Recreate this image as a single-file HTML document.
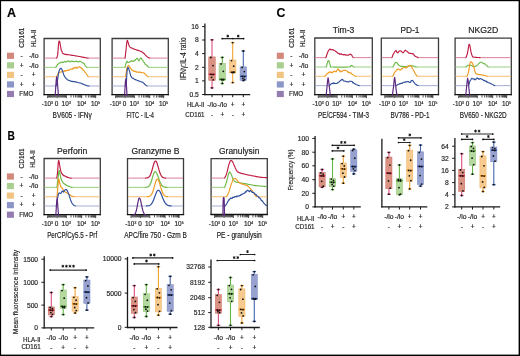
<!DOCTYPE html>
<html><head><meta charset="utf-8"><style>
html,body{margin:0;padding:0;background:#fff;}
svg{display:block;font-family:"Liberation Sans", sans-serif;will-change:transform;}
text{stroke:#222;stroke-width:0.18px;}
</style></head><body>
<svg width="520" height="356" viewBox="0 0 520 356">
<rect x="0" y="0" width="520" height="356" fill="#000"/>
<rect x="1.1" y="1.2" width="517.5" height="353.4" fill="#fff"/>
<text x="7" y="16.9" font-size="12" text-anchor="start" fill="#000" font-weight="bold" textLength="9" lengthAdjust="spacingAndGlyphs">A</text>
<text x="7.4" y="140.1" font-size="11.9" text-anchor="start" fill="#000" font-weight="bold" textLength="7.4" lengthAdjust="spacingAndGlyphs">B</text>
<text x="276.5" y="16.7" font-size="12.2" text-anchor="start" fill="#000" font-weight="bold">C</text>
<rect x="7" y="52.7" width="7" height="6.2" fill="#d2887a"/>
<rect x="7" y="62.25" width="7" height="6.2" fill="#a8cf8f"/>
<rect x="7" y="71.8" width="7" height="6.2" fill="#f2c482"/>
<rect x="7" y="81.35" width="7" height="6.2" fill="#8b96c8"/>
<rect x="7" y="90.9" width="7" height="6.2" fill="#957cb0"/>
<text transform="translate(23.9,47.7) rotate(-90)" font-size="6.5" fill="#2b2b2b" textLength="20" lengthAdjust="spacingAndGlyphs">CD161</text>
<text transform="translate(35.5,47.1) rotate(-90)" font-size="6.3" fill="#2b2b2b" textLength="17.5" lengthAdjust="spacingAndGlyphs">HLA-II</text>
<text x="21.6" y="58" font-size="6.6" text-anchor="middle" fill="#2b2b2b" font-weight="normal">-</text>
<text x="33.7" y="58" font-size="6.6" text-anchor="middle" fill="#2b2b2b" font-weight="normal" textLength="9.6" lengthAdjust="spacingAndGlyphs">-/lo</text>
<text x="21.6" y="67.55" font-size="6.6" text-anchor="middle" fill="#2b2b2b" font-weight="normal">+</text>
<text x="33.7" y="67.55" font-size="6.6" text-anchor="middle" fill="#2b2b2b" font-weight="normal" textLength="9.6" lengthAdjust="spacingAndGlyphs">-/lo</text>
<text x="21.6" y="77.1" font-size="6.6" text-anchor="middle" fill="#2b2b2b" font-weight="normal">-</text>
<text x="33.7" y="77.1" font-size="6.6" text-anchor="middle" fill="#2b2b2b" font-weight="normal">+</text>
<text x="21.6" y="86.65" font-size="6.6" text-anchor="middle" fill="#2b2b2b" font-weight="normal">+</text>
<text x="33.7" y="86.65" font-size="6.6" text-anchor="middle" fill="#2b2b2b" font-weight="normal">+</text>
<text x="19.3" y="96.4" font-size="6.6" text-anchor="start" fill="#2b2b2b" font-weight="normal" textLength="14" lengthAdjust="spacingAndGlyphs">FMO</text>
<rect x="6.9" y="173.4" width="7" height="6.2" fill="#d2887a"/>
<rect x="6.9" y="182.95" width="7" height="6.2" fill="#a8cf8f"/>
<rect x="6.9" y="192.5" width="7" height="6.2" fill="#f2c482"/>
<rect x="6.9" y="202.05" width="7" height="6.2" fill="#8b96c8"/>
<rect x="6.9" y="211.6" width="7" height="6.2" fill="#957cb0"/>
<text transform="translate(23.8,168.4) rotate(-90)" font-size="6.5" fill="#2b2b2b" textLength="20" lengthAdjust="spacingAndGlyphs">CD161</text>
<text transform="translate(35.4,167.8) rotate(-90)" font-size="6.3" fill="#2b2b2b" textLength="17.5" lengthAdjust="spacingAndGlyphs">HLA-II</text>
<text x="21.5" y="178.7" font-size="6.6" text-anchor="middle" fill="#2b2b2b" font-weight="normal">-</text>
<text x="33.6" y="178.7" font-size="6.6" text-anchor="middle" fill="#2b2b2b" font-weight="normal" textLength="9.6" lengthAdjust="spacingAndGlyphs">-/lo</text>
<text x="21.5" y="188.25" font-size="6.6" text-anchor="middle" fill="#2b2b2b" font-weight="normal">+</text>
<text x="33.6" y="188.25" font-size="6.6" text-anchor="middle" fill="#2b2b2b" font-weight="normal" textLength="9.6" lengthAdjust="spacingAndGlyphs">-/lo</text>
<text x="21.5" y="197.8" font-size="6.6" text-anchor="middle" fill="#2b2b2b" font-weight="normal">-</text>
<text x="33.6" y="197.8" font-size="6.6" text-anchor="middle" fill="#2b2b2b" font-weight="normal">+</text>
<text x="21.5" y="207.35" font-size="6.6" text-anchor="middle" fill="#2b2b2b" font-weight="normal">+</text>
<text x="33.6" y="207.35" font-size="6.6" text-anchor="middle" fill="#2b2b2b" font-weight="normal">+</text>
<text x="19.2" y="217.1" font-size="6.6" text-anchor="start" fill="#2b2b2b" font-weight="normal" textLength="14" lengthAdjust="spacingAndGlyphs">FMO</text>
<rect x="276.8" y="52.7" width="7" height="6.2" fill="#d2887a"/>
<rect x="276.8" y="62.25" width="7" height="6.2" fill="#a8cf8f"/>
<rect x="276.8" y="71.8" width="7" height="6.2" fill="#f2c482"/>
<rect x="276.8" y="81.35" width="7" height="6.2" fill="#8b96c8"/>
<rect x="276.8" y="90.9" width="7" height="6.2" fill="#957cb0"/>
<text transform="translate(293.7,47.7) rotate(-90)" font-size="6.5" fill="#2b2b2b" textLength="20" lengthAdjust="spacingAndGlyphs">CD161</text>
<text transform="translate(305.3,47.1) rotate(-90)" font-size="6.3" fill="#2b2b2b" textLength="17.5" lengthAdjust="spacingAndGlyphs">HLA-II</text>
<text x="291.4" y="58" font-size="6.6" text-anchor="middle" fill="#2b2b2b" font-weight="normal">-</text>
<text x="303.5" y="58" font-size="6.6" text-anchor="middle" fill="#2b2b2b" font-weight="normal" textLength="9.6" lengthAdjust="spacingAndGlyphs">-/lo</text>
<text x="291.4" y="67.55" font-size="6.6" text-anchor="middle" fill="#2b2b2b" font-weight="normal">+</text>
<text x="303.5" y="67.55" font-size="6.6" text-anchor="middle" fill="#2b2b2b" font-weight="normal" textLength="9.6" lengthAdjust="spacingAndGlyphs">-/lo</text>
<text x="291.4" y="77.1" font-size="6.6" text-anchor="middle" fill="#2b2b2b" font-weight="normal">-</text>
<text x="303.5" y="77.1" font-size="6.6" text-anchor="middle" fill="#2b2b2b" font-weight="normal">+</text>
<text x="291.4" y="86.65" font-size="6.6" text-anchor="middle" fill="#2b2b2b" font-weight="normal">+</text>
<text x="303.5" y="86.65" font-size="6.6" text-anchor="middle" fill="#2b2b2b" font-weight="normal">+</text>
<text x="289.1" y="96.4" font-size="6.6" text-anchor="start" fill="#2b2b2b" font-weight="normal" textLength="14" lengthAdjust="spacingAndGlyphs">FMO</text>
<path d="M44.1,95.2 L44.1,38.5 L100.3,38.5 L100.3,95.2" fill="none" stroke="#3c3c3c" stroke-width="1.3"/>
<line x1="43.5" y1="94.7" x2="100.9" y2="94.7" stroke="#111" stroke-width="1.3"/>
<path d="M47.6,95.2 V98.2 M57.1,95.2 V98.2 M66.4,95.2 V98.2 M81.7,95.2 V98.2 M95.7,95.2 V98.2 M71.01,95.2 V97.5 M73.7,95.2 V97.5 M75.61,95.2 V97.5 M77.09,95.2 V97.5 M78.31,95.2 V97.5 M79.33,95.2 V97.5 M80.22,95.2 V97.5 M81,95.2 V97.5 M85.91,95.2 V97.5 M88.38,95.2 V97.5 M90.13,95.2 V97.5 M91.49,95.2 V97.5 M92.59,95.2 V97.5 M93.53,95.2 V97.5 M94.34,95.2 V97.5 M95.06,95.2 V97.5 M58.03,95.2 V97.5 M56.15,95.2 V97.5 M58.96,95.2 V97.5 M55.2,95.2 V97.5 M59.89,95.2 V97.5 M54.25,95.2 V97.5 M60.82,95.2 V97.5 M53.3,95.2 V97.5 M61.75,95.2 V97.5 M52.35,95.2 V97.5 M62.68,95.2 V97.5 M51.4,95.2 V97.5 M63.61,95.2 V97.5 M50.45,95.2 V97.5 M64.54,95.2 V97.5 M49.5,95.2 V97.5 M65.47,95.2 V97.5 M48.55,95.2 V97.5 " stroke="#151515" stroke-width="0.75"/>
<text x="41.8" y="106.2" font-size="6.4" fill="#2b2b2b">-10</text>
<text x="51.08" y="104.1" font-size="3.3" fill="#2b2b2b">3</text>
<text x="56.6" y="106.2" font-size="6.4" text-anchor="middle" fill="#2b2b2b" font-weight="normal">0</text>
<text x="61.6" y="106.2" font-size="6.4" fill="#2b2b2b">10</text>
<text x="68.92" y="104.1" font-size="3.3" fill="#2b2b2b">3</text>
<text x="77" y="106.2" font-size="6.4" fill="#2b2b2b">10</text>
<text x="84.32" y="104.1" font-size="3.3" fill="#2b2b2b">4</text>
<text x="91" y="106.2" font-size="6.4" fill="#2b2b2b">10</text>
<text x="98.32" y="104.1" font-size="3.3" fill="#2b2b2b">5</text>
<text x="72.2" y="118.2" font-size="8.3" text-anchor="middle" fill="#222" font-weight="normal" textLength="39.4" lengthAdjust="spacingAndGlyphs">BV605 - IFN&#947;</text>
<line x1="44.6" y1="58.1" x2="56.5" y2="58.1" stroke="#de8aa2" stroke-width="1.1"/>
<line x1="88" y1="58.1" x2="99.8" y2="58.1" stroke="#de8aa2" stroke-width="1.1"/>
<path d="M56.5,58.1 L57,57.38 L57.6,55.4 L58.02,50.95 L58.4,45.87 L58.74,42.79 L59.1,40.96 L59.53,41.18 L60,43 L60.46,45.74 L61,48.98 L61.46,50.46 L61.98,51.84 L62.5,52.98 L62.98,53.68 L63.46,53.71 L64,53.92 L64.42,54.18 L64.84,54.36 L65.35,54.32 L66,54.37 L66.46,54.62 L66.97,54.41 L67.52,54.74 L68.11,54.66 L68.73,54.7 L69.36,54.79 L70,54.94 L70.51,55.17 L71.04,55.07 L71.59,55.28 L72.15,55.38 L72.72,55.4 L73.3,55.54 L73.87,55.49 L74.44,55.58 L75,55.72 L75.56,55.94 L76.11,55.96 L76.67,56.01 L77.22,56.16 L77.78,56.22 L78.33,56.28 L78.89,56.47 L79.44,56.54 L80,56.55 L80.57,56.72 L81.15,56.82 L81.74,56.99 L82.33,57.09 L82.91,57.16 L83.48,57.34 L84.02,57.38 L84.53,57.5 L85,57.62 L85.65,57.7 L86.26,57.82 L86.81,57.9 L87.3,57.99 L87.7,58.05 L88,58.1" fill="none" stroke="#c01c43" stroke-width="1.15" stroke-linejoin="round" stroke-linecap="round"/>
<line x1="44.6" y1="67.4" x2="55.8" y2="67.4" stroke="#a3d48e" stroke-width="1.1"/>
<line x1="86.8" y1="67.4" x2="99.8" y2="67.4" stroke="#a3d48e" stroke-width="1.1"/>
<path d="M55.8,67.4 L56.25,66.6 L56.89,65.71 L57.5,64.33 L58,64.18 L58.47,63.79 L59,63.47 L59.46,63.03 L59.97,63.02 L60.49,62.8 L61,62.18 L61.52,62.33 L62.06,61.89 L62.57,62.58 L63,62.53 L63.5,62.38 L64,61.79 L64.43,61.36 L64.94,61.64 L65.48,62.09 L66,61.57 L66.5,61.82 L67,61.29 L67.5,60.99 L68,60.8 L68.5,61.53 L69,61.17 L69.5,61.49 L70,61.7 L70.5,62 L71,61.02 L71.5,61.09 L72,61.04 L72.5,61.42 L73,61.56 L73.5,61.81 L74,61.4 L74.5,61.49 L75,61.32 L75.5,61.67 L76,61.71 L76.5,61.12 L77,61.37 L77.5,61.64 L78,61.76 L78.5,61.92 L79,61.82 L79.5,61.35 L80,61.05 L80.5,61.53 L81,61.68 L81.5,62.1 L82,62.71 L82.51,62.71 L83.03,62.81 L83.54,63.21 L84,63.66 L84.54,63.88 L85.03,65.52 L85.5,66.14 L86,66.71 L86.47,67.11 L86.8,67.4" fill="none" stroke="#6dbb4a" stroke-width="1.15" stroke-linejoin="round" stroke-linecap="round"/>
<line x1="44.6" y1="76.7" x2="56.9" y2="76.7" stroke="#f6c380" stroke-width="1.1"/>
<line x1="88.2" y1="76.7" x2="99.8" y2="76.7" stroke="#f6c380" stroke-width="1.1"/>
<path d="M56.9,76.7 L57.3,75.58 L57.88,74.05 L58.5,72.64 L58.98,72.75 L59.51,72.1 L60.03,72.07 L60.5,72.14 L61.02,71.96 L61.48,72.01 L62,71.6 L62.46,71.36 L62.97,71.27 L63.49,71.01 L64,71.08 L64.5,70.69 L65,71.43 L65.5,71.17 L66,70.68 L66.5,70.64 L67,70.54 L67.5,70.36 L68,69.96 L68.5,70.44 L69,70.39 L69.5,69.74 L70,69.59 L70.5,69.07 L71,68.95 L71.5,69.02 L72,68.79 L72.5,69.11 L73,68.3 L73.5,67.97 L74,68.61 L74.52,68.02 L75.06,67.45 L75.57,67.63 L76,67.07 L76.56,67.79 L77,68.43 L77.5,67.83 L78,67.18 L78.5,66.96 L79,67.28 L79.5,66.75 L80,67.04 L80.5,67.36 L81,68.25 L81.44,68.05 L82,68.25 L82.43,69.15 L82.94,69.78 L83.48,70.21 L84,70.78 L84.5,71.46 L84.99,72.14 L85.49,72.47 L86,73.52 L86.59,74.24 L87.23,75.05 L87.8,76.02 L88.2,76.7" fill="none" stroke="#ef9a22" stroke-width="1.15" stroke-linejoin="round" stroke-linecap="round"/>
<line x1="44.6" y1="86" x2="56.1" y2="86" stroke="#abb5db" stroke-width="1.1"/>
<line x1="89.2" y1="86" x2="99.8" y2="86" stroke="#abb5db" stroke-width="1.1"/>
<path d="M56.1,86 L56.46,84.5 L56.97,82.35 L57.5,80.08 L57.98,77.17 L58.47,73.62 L59,71.17 L59.45,69.97 L59.94,69.16 L60.44,68.48 L60.9,68.29 L61.45,68.69 L61.97,69.66 L62.5,70.88 L63.06,72.54 L63.62,74.37 L64.2,75.84 L64.8,76.76 L65.41,77.66 L66,78.42 L66.52,78.7 L67.01,79.36 L67.6,79.86 L68.04,80.06 L68.52,80.29 L69.03,80.41 L69.53,80.49 L70,80.92 L70.48,80.9 L70.9,81.2 L71.37,81.36 L72,81.26 L72.47,81.35 L73,81.66 L73.57,81.66 L74.18,81.54 L74.8,81.62 L75.41,81.74 L76,82.16 L76.57,82.25 L77.14,82.11 L77.71,82.51 L78.29,82.71 L78.86,82.73 L79.43,82.77 L80,83.02 L80.58,83.04 L81.17,83.21 L81.77,83.8 L82.36,83.9 L82.93,84.09 L83.48,84.42 L84,84.48 L84.57,84.8 L85.1,85.01 L85.61,85.14 L86.1,85.35 L86.56,85.54 L87,85.69 L87.66,85.85 L88.29,85.92 L88.82,85.97 L89.2,86" fill="none" stroke="#2f4f9c" stroke-width="1.15" stroke-linejoin="round" stroke-linecap="round"/>
<path d="M55.2,95.2 C55.35,93 55.85,85.12 56.1,82 C56.35,78.88 56.48,76.5 56.7,76.5 C56.92,76.5 57.12,78.88 57.4,82 C57.68,85.12 58.23,93 58.4,95.2" fill="none" stroke="#5e2a80" stroke-width="1.2" stroke-linejoin="round" stroke-linecap="round"/>
<path d="M112.1,95.2 L112.1,38.5 L168.3,38.5 L168.3,95.2" fill="none" stroke="#3c3c3c" stroke-width="1.3"/>
<line x1="111.5" y1="94.7" x2="168.9" y2="94.7" stroke="#111" stroke-width="1.3"/>
<path d="M115.6,95.2 V98.2 M125.1,95.2 V98.2 M134.4,95.2 V98.2 M149.7,95.2 V98.2 M163.7,95.2 V98.2 M139.01,95.2 V97.5 M141.7,95.2 V97.5 M143.61,95.2 V97.5 M145.09,95.2 V97.5 M146.31,95.2 V97.5 M147.33,95.2 V97.5 M148.22,95.2 V97.5 M149,95.2 V97.5 M153.91,95.2 V97.5 M156.38,95.2 V97.5 M158.13,95.2 V97.5 M159.49,95.2 V97.5 M160.59,95.2 V97.5 M161.53,95.2 V97.5 M162.34,95.2 V97.5 M163.06,95.2 V97.5 M126.03,95.2 V97.5 M124.15,95.2 V97.5 M126.96,95.2 V97.5 M123.2,95.2 V97.5 M127.89,95.2 V97.5 M122.25,95.2 V97.5 M128.82,95.2 V97.5 M121.3,95.2 V97.5 M129.75,95.2 V97.5 M120.35,95.2 V97.5 M130.68,95.2 V97.5 M119.4,95.2 V97.5 M131.61,95.2 V97.5 M118.45,95.2 V97.5 M132.54,95.2 V97.5 M117.5,95.2 V97.5 M133.47,95.2 V97.5 M116.55,95.2 V97.5 " stroke="#151515" stroke-width="0.75"/>
<text x="109.8" y="106.2" font-size="6.4" fill="#2b2b2b">-10</text>
<text x="119.08" y="104.1" font-size="3.3" fill="#2b2b2b">3</text>
<text x="124.6" y="106.2" font-size="6.4" text-anchor="middle" fill="#2b2b2b" font-weight="normal">0</text>
<text x="129.6" y="106.2" font-size="6.4" fill="#2b2b2b">10</text>
<text x="136.92" y="104.1" font-size="3.3" fill="#2b2b2b">3</text>
<text x="145" y="106.2" font-size="6.4" fill="#2b2b2b">10</text>
<text x="152.32" y="104.1" font-size="3.3" fill="#2b2b2b">4</text>
<text x="159" y="106.2" font-size="6.4" fill="#2b2b2b">10</text>
<text x="166.32" y="104.1" font-size="3.3" fill="#2b2b2b">5</text>
<text x="140.2" y="118.2" font-size="8.3" text-anchor="middle" fill="#222" font-weight="normal" textLength="27.6" lengthAdjust="spacingAndGlyphs">FITC - IL-4</text>
<line x1="112.6" y1="58.1" x2="125.1" y2="58.1" stroke="#de8aa2" stroke-width="1.1"/>
<line x1="149.7" y1="58.1" x2="167.8" y2="58.1" stroke="#de8aa2" stroke-width="1.1"/>
<path d="M125.1,58.1 L125.48,54.53 L126,50.12 L126.53,44.54 L127.1,40.49 L127.49,40.43 L127.9,41.77 L128.3,42.98 L128.87,44.94 L129.5,46.5 L129.99,47.14 L130.53,47.54 L131.2,47.76 L131.68,48.12 L132.2,48.26 L132.76,48.41 L133.36,48.86 L134,48.9 L134.48,49.17 L134.99,49.42 L135.52,49.56 L136.07,49.68 L136.62,49.93 L137.16,50.13 L137.7,50.39 L138.24,50.36 L138.79,50.67 L139.34,50.75 L139.89,50.93 L140.42,51.27 L140.93,51.39 L141.4,51.62 L141.98,52 L142.5,52.38 L142.98,52.61 L143.47,53.07 L144,53.5 L144.48,53.97 L144.98,54.56 L145.49,55.06 L146.01,55.65 L146.51,56.16 L147,56.68 L147.6,57.05 L148.23,57.42 L148.83,57.71 L149.34,57.92 L149.7,58.1" fill="none" stroke="#c01c43" stroke-width="1.15" stroke-linejoin="round" stroke-linecap="round"/>
<line x1="112.6" y1="67.4" x2="125" y2="67.4" stroke="#a3d48e" stroke-width="1.1"/>
<line x1="148.8" y1="67.4" x2="167.8" y2="67.4" stroke="#a3d48e" stroke-width="1.1"/>
<path d="M125,67.4 L125.4,65.63 L125.99,63.46 L126.6,61.74 L127.04,61.14 L127.49,61.64 L127.98,62.49 L128.5,62.5 L128.97,62.41 L129.48,61.87 L130.01,61.77 L130.52,61.39 L131,61.18 L131.52,60.62 L132,61.17 L132.48,61.31 L133,60.95 L133.49,61.3 L134.02,61.1 L134.56,60.27 L135.07,60.44 L135.5,59.73 L136.03,59.13 L136.42,58.79 L136.8,58.33 L137.42,58.36 L138,59.45 L138.48,60.53 L139,60.89 L139.46,59.99 L139.98,58.78 L140.5,58.26 L140.94,57.81 L141.39,58.7 L142,59.46 L142.4,59.71 L142.86,60.59 L143.36,61.54 L143.89,62.24 L144.44,62.69 L145,64.04 L145.53,64.49 L146.14,65.23 L146.77,65.31 L147.4,66.01 L147.97,66.53 L148.45,67.1 L148.8,67.4" fill="none" stroke="#6dbb4a" stroke-width="1.15" stroke-linejoin="round" stroke-linecap="round"/>
<line x1="112.6" y1="76.7" x2="125.6" y2="76.7" stroke="#f6c380" stroke-width="1.1"/>
<line x1="147.9" y1="76.7" x2="167.8" y2="76.7" stroke="#f6c380" stroke-width="1.1"/>
<path d="M125.6,76.7 L125.96,74.06 L126.48,70.5 L127,67.95 L127.46,66.83 L127.92,65.99 L128.4,65.33 L128.9,65.56 L129.43,66.91 L130,67.55 L130.47,68.31 L130.97,68.64 L131.49,69.33 L132,70.33 L132.48,70.48 L132.94,70.41 L133.43,71.14 L134,71.09 L134.44,71.37 L134.93,71.05 L135.44,71.78 L135.96,71.41 L136.49,72.13 L137,71.97 L137.51,71.97 L138.04,72.17 L138.56,72.47 L139.07,72.03 L139.56,71.98 L140,72.32 L140.57,72.28 L141.06,72.4 L141.52,72.63 L142,72.69 L142.5,72.79 L143,72.79 L143.5,72.74 L144,73.18 L144.5,73.22 L145.01,73.89 L145.51,74.27 L146,74.93 L146.53,75.32 L147.08,75.92 L147.56,76.36 L147.9,76.7" fill="none" stroke="#ef9a22" stroke-width="1.15" stroke-linejoin="round" stroke-linecap="round"/>
<line x1="112.6" y1="86" x2="126.2" y2="86" stroke="#abb5db" stroke-width="1.1"/>
<line x1="147" y1="86" x2="167.8" y2="86" stroke="#abb5db" stroke-width="1.1"/>
<path d="M126.2,86 L126.54,79.36 L127,72.02 L127.47,68.54 L128,67.39 L128.39,67.88 L128.81,68.83 L129.3,70.6 L129.71,71.91 L130.16,73.66 L130.65,75.47 L131.2,76.67 L131.7,77.39 L132.25,77.92 L132.82,78.34 L133.41,78.43 L134,78.9 L134.49,79.16 L134.99,79.43 L135.49,79.64 L135.99,79.88 L136.5,80.04 L137,80.29 L137.5,80.47 L138,80.84 L138.5,80.85 L139,80.97 L139.5,81.1 L140,81.5 L140.51,81.69 L141.04,81.81 L141.56,81.88 L142.07,82.06 L142.56,82.3 L143,82.59 L143.57,82.93 L144.06,83.52 L144.52,83.98 L145,84.58 L145.55,85 L146.12,85.37 L146.64,85.73 L147,86" fill="none" stroke="#2f4f9c" stroke-width="1.15" stroke-linejoin="round" stroke-linecap="round"/>
<path d="M124.6,95.2 C124.72,93.17 125.1,85.78 125.3,83 C125.5,80.22 125.63,78.5 125.8,78.5 C125.97,78.5 126.1,80.22 126.3,83 C126.5,85.78 126.88,93.17 127,95.2" fill="none" stroke="#5e2a80" stroke-width="1.2" stroke-linejoin="round" stroke-linecap="round"/>
<path d="M314.8,95.2 L314.8,38 L372.3,38 L372.3,95.2" fill="none" stroke="#3c3c3c" stroke-width="1.3"/>
<line x1="314.2" y1="94.7" x2="372.9" y2="94.7" stroke="#111" stroke-width="1.3"/>
<path d="M318.3,95.2 V98.2 M327.8,95.2 V98.2 M337.1,95.2 V98.2 M352.4,95.2 V98.2 M366.4,95.2 V98.2 M341.71,95.2 V97.5 M344.4,95.2 V97.5 M346.31,95.2 V97.5 M347.79,95.2 V97.5 M349.01,95.2 V97.5 M350.03,95.2 V97.5 M350.92,95.2 V97.5 M351.7,95.2 V97.5 M356.61,95.2 V97.5 M359.08,95.2 V97.5 M360.83,95.2 V97.5 M362.19,95.2 V97.5 M363.29,95.2 V97.5 M364.23,95.2 V97.5 M365.04,95.2 V97.5 M365.76,95.2 V97.5 M328.73,95.2 V97.5 M326.85,95.2 V97.5 M329.66,95.2 V97.5 M325.9,95.2 V97.5 M330.59,95.2 V97.5 M324.95,95.2 V97.5 M331.52,95.2 V97.5 M324,95.2 V97.5 M332.45,95.2 V97.5 M323.05,95.2 V97.5 M333.38,95.2 V97.5 M322.1,95.2 V97.5 M334.31,95.2 V97.5 M321.15,95.2 V97.5 M335.24,95.2 V97.5 M320.2,95.2 V97.5 M336.17,95.2 V97.5 M319.25,95.2 V97.5 " stroke="#151515" stroke-width="0.75"/>
<text x="312.5" y="106.2" font-size="6.4" fill="#2b2b2b">-10</text>
<text x="321.78" y="104.1" font-size="3.3" fill="#2b2b2b">3</text>
<text x="327.3" y="106.2" font-size="6.4" text-anchor="middle" fill="#2b2b2b" font-weight="normal">0</text>
<text x="332.3" y="106.2" font-size="6.4" fill="#2b2b2b">10</text>
<text x="339.62" y="104.1" font-size="3.3" fill="#2b2b2b">3</text>
<text x="347.7" y="106.2" font-size="6.4" fill="#2b2b2b">10</text>
<text x="355.02" y="104.1" font-size="3.3" fill="#2b2b2b">4</text>
<text x="361.7" y="106.2" font-size="6.4" fill="#2b2b2b">10</text>
<text x="369.02" y="104.1" font-size="3.3" fill="#2b2b2b">5</text>
<text x="343.55" y="33.2" font-size="8.4" text-anchor="middle" fill="#1e1e1e" font-weight="normal" textLength="21.6" lengthAdjust="spacingAndGlyphs">Tim-3</text>
<text x="343.55" y="118.2" font-size="8.3" text-anchor="middle" fill="#222" font-weight="normal" textLength="51" lengthAdjust="spacingAndGlyphs">PE/CF594 - TIM-3</text>
<line x1="315.3" y1="57.6" x2="325.9" y2="57.6" stroke="#de8aa2" stroke-width="1.1"/>
<line x1="353.2" y1="57.6" x2="371.8" y2="57.6" stroke="#de8aa2" stroke-width="1.1"/>
<path d="M325.9,57.6 L326.3,56.54 L326.87,54.51 L327.5,52.9 L328.01,51.54 L328.56,50.68 L329.11,49.79 L329.6,49.2 L330.13,48.95 L330.59,49.64 L331,49.65 L331.44,49.73 L332,49.51 L332.5,49.88 L333.11,49.87 L333.74,50.12 L334.3,50.56 L334.9,50.76 L335.43,51.25 L336,51.52 L336.48,52.01 L336.99,52.35 L337.51,52.79 L338,53.27 L338.45,53.23 L338.89,53.46 L339.33,54.16 L339.8,53.75 L340.3,54.25 L340.82,54.23 L341.38,53.82 L342,54.43 L342.45,54.56 L342.94,54.47 L343.45,54.66 L343.97,54.83 L344.49,54.47 L345,54.82 L345.5,54.87 L346,55.15 L346.5,55.18 L347,55.22 L347.5,55.06 L348,55.27 L348.51,55.06 L349.03,54.92 L349.55,54.44 L350.06,54.18 L350.55,54.22 L351,54.5 L351.66,54.91 L352.29,56.22 L352.82,56.99 L353.2,57.6" fill="none" stroke="#c01c43" stroke-width="1.15" stroke-linejoin="round" stroke-linecap="round"/>
<line x1="315.3" y1="67" x2="326.3" y2="67" stroke="#a3d48e" stroke-width="1.1"/>
<line x1="354" y1="67" x2="371.8" y2="67" stroke="#a3d48e" stroke-width="1.1"/>
<path d="M326.3,67 L326.74,65.2 L327.3,63.06 L327.8,61.5 L328.3,60.49 L328.79,60.6 L329.3,62.15 L329.87,64.16 L330.5,66 L330.4,66.6 L330.34,66.86 L332,67 L332.35,67.02 L332.74,67.03 L333.19,67.05 L333.68,67.06 L334.21,67.07 L334.77,67.08 L335.37,67.09 L336,67.1 L336.65,67.11 L337.32,67.11 L338.01,67.12 L338.71,67.12 L339.42,67.12 L340.14,67.12 L340.86,67.12 L341.58,67.12 L342.29,67.12 L342.99,67.12 L343.68,67.11 L344.35,67.11 L345,67.1 L345.63,67.09 L346.23,67.08 L346.79,67.07 L347.32,67.06 L347.81,67.05 L348.26,67.03 L348.65,67.02 L349,67 L350.65,66.72 L350.58,66.33 L350.5,65.92 L350.99,65.84 L351.46,65.45 L351.9,65.64 L352.47,66.03 L353,66.45 L353.57,66.81 L354,67" fill="none" stroke="#6dbb4a" stroke-width="1.15" stroke-linejoin="round" stroke-linecap="round"/>
<line x1="315.3" y1="76.3" x2="325" y2="76.3" stroke="#f6c380" stroke-width="1.1"/>
<line x1="355.6" y1="76.3" x2="371.8" y2="76.3" stroke="#f6c380" stroke-width="1.1"/>
<path d="M325,76.3 L325.34,75.92 L325.81,75.43 L326.38,74.58 L327,73.83 L327.45,73.39 L327.96,73.57 L328.5,72.59 L329.04,72.54 L329.55,71.9 L330,72.02 L330.57,72.35 L331.06,71.91 L331.52,72.69 L332,72.51 L332.5,72.59 L333,72.06 L333.5,71.31 L334,71.62 L334.5,71.37 L335,71.26 L335.5,71.46 L336,71.79 L336.5,71.21 L337,70.23 L337.5,69.29 L338,69.08 L338.5,69.35 L339,70.48 L339.5,70.6 L340,71.7 L340.48,71.87 L340.94,71.2 L341.43,71.64 L342,71.27 L342.44,71.27 L342.93,70.57 L343.44,70.41 L343.96,70.23 L344.49,70.6 L345,70.27 L345.5,70.24 L346,70.56 L346.5,70.78 L347,70.98 L347.5,71.38 L348,72.27 L348.51,72.08 L349.04,72.82 L349.56,72.49 L350.07,72.71 L350.56,73.1 L351,73.05 L351.56,73.49 L352.02,74.22 L352.48,74.42 L353,74.68 L353.52,74.91 L354.12,75.4 L354.72,75.77 L355.24,76.05 L355.6,76.3" fill="none" stroke="#ef9a22" stroke-width="1.15" stroke-linejoin="round" stroke-linecap="round"/>
<line x1="315.3" y1="85.6" x2="329.6" y2="85.6" stroke="#abb5db" stroke-width="1.1"/>
<line x1="359.3" y1="85.6" x2="371.8" y2="85.6" stroke="#abb5db" stroke-width="1.1"/>
<path d="M329.6,85.6 L329.94,85.18 L330.44,84.4 L331,84.1 L331.43,83.69 L331.9,83.63 L332.42,83.4 L333,83.06 L333.44,82.9 L333.93,83.56 L334.44,83.16 L334.96,83.48 L335.49,83.45 L336,83.38 L336.5,83.52 L336.99,83.49 L337.49,82.76 L337.99,82.75 L338.49,82.19 L339,82.04 L339.54,81.52 L340.1,80.86 L340.67,80.33 L341.23,79.87 L341.75,79.98 L342.2,79.5 L342.72,79.41 L343.11,80.32 L343.5,80.92 L344,80.96 L344.44,80.95 L344.95,81.18 L345.49,81.28 L346.03,81.61 L346.54,81.55 L347,81.72 L347.57,81.72 L348.06,81.82 L348.52,81.89 L349,81.67 L349.5,81.34 L350,81.24 L350.5,81.26 L351,81.21 L351.48,81.37 L351.94,81.46 L352.43,81.96 L353,82.83 L353.44,82.54 L353.91,83.14 L354.42,83.58 L354.94,84.05 L355.47,84.1 L356,84.43 L356.57,84.69 L357.2,84.96 L357.84,85.17 L358.43,85.38 L358.94,85.5 L359.3,85.6" fill="none" stroke="#2f4f9c" stroke-width="1.15" stroke-linejoin="round" stroke-linecap="round"/>
<path d="M326.2,95.2 C326.37,93.5 326.88,87.93 327.2,85 C327.52,82.07 327.78,77.6 328.1,77.6 C328.42,77.6 328.73,82.07 329.1,85 C329.47,87.93 330.1,93.5 330.3,95.2" fill="none" stroke="#5e2a80" stroke-width="1.2" stroke-linejoin="round" stroke-linecap="round"/>
<path d="M381.3,95.2 L381.3,38.2 L438.5,38.2 L438.5,95.2" fill="none" stroke="#3c3c3c" stroke-width="1.3"/>
<line x1="380.7" y1="94.7" x2="439.1" y2="94.7" stroke="#111" stroke-width="1.3"/>
<path d="M384.8,95.2 V98.2 M394.3,95.2 V98.2 M403.6,95.2 V98.2 M418.9,95.2 V98.2 M432.9,95.2 V98.2 M408.21,95.2 V97.5 M410.9,95.2 V97.5 M412.81,95.2 V97.5 M414.29,95.2 V97.5 M415.51,95.2 V97.5 M416.53,95.2 V97.5 M417.42,95.2 V97.5 M418.2,95.2 V97.5 M423.11,95.2 V97.5 M425.58,95.2 V97.5 M427.33,95.2 V97.5 M428.69,95.2 V97.5 M429.79,95.2 V97.5 M430.73,95.2 V97.5 M431.54,95.2 V97.5 M432.26,95.2 V97.5 M395.23,95.2 V97.5 M393.35,95.2 V97.5 M396.16,95.2 V97.5 M392.4,95.2 V97.5 M397.09,95.2 V97.5 M391.45,95.2 V97.5 M398.02,95.2 V97.5 M390.5,95.2 V97.5 M398.95,95.2 V97.5 M389.55,95.2 V97.5 M399.88,95.2 V97.5 M388.6,95.2 V97.5 M400.81,95.2 V97.5 M387.65,95.2 V97.5 M401.74,95.2 V97.5 M386.7,95.2 V97.5 M402.67,95.2 V97.5 M385.75,95.2 V97.5 " stroke="#151515" stroke-width="0.75"/>
<text x="379" y="106.2" font-size="6.4" fill="#2b2b2b">-10</text>
<text x="388.28" y="104.1" font-size="3.3" fill="#2b2b2b">3</text>
<text x="393.8" y="106.2" font-size="6.4" text-anchor="middle" fill="#2b2b2b" font-weight="normal">0</text>
<text x="398.8" y="106.2" font-size="6.4" fill="#2b2b2b">10</text>
<text x="406.12" y="104.1" font-size="3.3" fill="#2b2b2b">3</text>
<text x="414.2" y="106.2" font-size="6.4" fill="#2b2b2b">10</text>
<text x="421.52" y="104.1" font-size="3.3" fill="#2b2b2b">4</text>
<text x="428.2" y="106.2" font-size="6.4" fill="#2b2b2b">10</text>
<text x="435.52" y="104.1" font-size="3.3" fill="#2b2b2b">5</text>
<text x="409.9" y="33.4" font-size="8.4" text-anchor="middle" fill="#1e1e1e" font-weight="normal" textLength="19" lengthAdjust="spacingAndGlyphs">PD-1</text>
<text x="409.9" y="118.2" font-size="8.3" text-anchor="middle" fill="#222" font-weight="normal" textLength="39" lengthAdjust="spacingAndGlyphs">BV786 - PD-1</text>
<line x1="381.8" y1="57.6" x2="391.9" y2="57.6" stroke="#de8aa2" stroke-width="1.1"/>
<line x1="417.9" y1="57.6" x2="438" y2="57.6" stroke="#de8aa2" stroke-width="1.1"/>
<path d="M391.9,57.6 L392.3,56.75 L392.87,55 L393.5,53.67 L393.99,53.18 L394.53,52.28 L395.08,51.13 L395.6,50.76 L396.1,50.53 L396.59,51.44 L397.06,52.51 L397.5,52.83 L398,52.68 L398.46,52.26 L399,51.32 L399.51,51.01 L400.08,50.84 L400.66,50.98 L401.2,51.13 L401.66,51.65 L402.08,52.07 L402.51,52.53 L403,52.79 L403.47,52.3 L404,51.83 L404.54,50.83 L405.05,50.8 L405.5,50.11 L406.06,50.72 L406.5,51.04 L407,51.36 L407.46,51.64 L407.97,52.18 L408.49,52.87 L409,53.24 L409.5,53.01 L410,53.07 L410.5,53.44 L411,53.56 L411.5,53.5 L412,53.46 L412.5,53.84 L413,53.66 L413.48,54.26 L413.94,54.9 L414.44,55.76 L415,56.06 L415.57,56.5 L416.23,56.74 L416.91,57.06 L417.49,57.37 L417.9,57.6" fill="none" stroke="#c01c43" stroke-width="1.15" stroke-linejoin="round" stroke-linecap="round"/>
<line x1="381.8" y1="67" x2="393" y2="67" stroke="#a3d48e" stroke-width="1.1"/>
<line x1="417" y1="67" x2="438" y2="67" stroke="#a3d48e" stroke-width="1.1"/>
<path d="M393,67 L393.39,66.25 L393.94,65.1 L394.5,63.9 L395,62.96 L395.5,62.53 L396,62.29 L396.46,62.32 L396.93,62.74 L397.5,63.58 L397.88,64.17 L398.26,64.37 L398.7,64.91 L399.26,65.56 L400,65.98 L400.41,66.16 L400.88,66.18 L401.38,66.35 L401.92,66.41 L402.49,66.43 L403.08,66.44 L403.67,66.54 L404.27,66.49 L404.86,66.54 L405.44,66.48 L406,66.47 L406.56,66.5 L407.13,66.4 L407.72,66.41 L408.31,66.26 L408.9,66.12 L409.48,66.02 L410.04,65.96 L410.58,65.94 L411.09,65.94 L411.57,65.72 L412,65.77 L412.69,65.81 L413.26,66.13 L413.75,66.19 L414.19,66.41 L414.59,66.63 L415,66.8 L415.62,66.92 L416.19,66.97 L416.66,66.98 L417,67" fill="none" stroke="#6dbb4a" stroke-width="1.15" stroke-linejoin="round" stroke-linecap="round"/>
<line x1="381.8" y1="76.3" x2="392.8" y2="76.3" stroke="#f6c380" stroke-width="1.1"/>
<line x1="417" y1="76.3" x2="438" y2="76.3" stroke="#f6c380" stroke-width="1.1"/>
<path d="M392.8,76.3 L393.18,75.62 L393.71,74.6 L394.34,72.93 L395,71.75 L395.47,71.75 L395.98,71.01 L396.51,69.89 L397.04,69.93 L397.55,69.33 L398,69.1 L398.57,69.11 L399.06,69.37 L399.52,69.65 L400,70.02 L400.5,69.83 L401,69.85 L401.5,68.65 L402,68.87 L402.5,67.91 L403,67.7 L403.5,67.81 L404,67.66 L404.5,67.38 L405,67.25 L405.5,67.76 L406,67.7 L406.5,67.92 L407.01,66.99 L407.51,66.74 L408,66.82 L408.49,65.79 L408.97,65.75 L409.45,65.82 L409.9,65.71 L410.46,65.42 L410.99,65.98 L411.5,66.65 L411.99,67.96 L412.47,68.13 L413,69.4 L413.46,70.37 L413.97,70.9 L414.49,71.87 L415,73.37 L415.55,74.03 L416.12,74.78 L416.64,75.76 L417,76.3" fill="none" stroke="#ef9a22" stroke-width="1.15" stroke-linejoin="round" stroke-linecap="round"/>
<line x1="381.8" y1="85.6" x2="396.6" y2="85.6" stroke="#abb5db" stroke-width="1.1"/>
<line x1="417.9" y1="85.6" x2="438" y2="85.6" stroke="#abb5db" stroke-width="1.1"/>
<path d="M396.6,85.6 L396.93,85.29 L397.39,84.84 L397.94,84.29 L398.5,84.21 L398.97,84.12 L399.48,83.88 L400.01,83.95 L400.52,83.36 L401,83.34 L401.52,83.27 L402,83.37 L402.48,83.13 L403,82.52 L403.47,82.29 L403.98,82.29 L404.5,82.23 L405.01,82.42 L405.5,81.78 L406.07,82 L406.61,81.7 L407.15,81.56 L407.7,81.49 L408.28,81.64 L408.88,81.92 L409.46,82.35 L410,82.5 L410.49,82.4 L410.94,81.19 L411.37,80.55 L411.8,80.58 L412.34,80.44 L412.88,80.95 L413.5,81.67 L413.96,82.5 L414.47,82.88 L415,83.83 L415.53,84.24 L416,84.65 L416.56,84.85 L417.11,85.16 L417.57,85.42 L417.9,85.6" fill="none" stroke="#2f4f9c" stroke-width="1.15" stroke-linejoin="round" stroke-linecap="round"/>
<path d="M392.4,95.2 C392.6,93.67 393.23,88.97 393.6,86 C393.97,83.03 394.27,77.57 394.6,77.4 C394.93,77.23 395.27,82.4 395.6,85 C395.93,87.6 396.23,91.3 396.6,93 C396.97,94.7 397.6,94.83 397.8,95.2" fill="none" stroke="#5e2a80" stroke-width="1.2" stroke-linejoin="round" stroke-linecap="round"/>
<path d="M455.1,95.2 L455.1,38.2 L511.3,38.2 L511.3,95.2" fill="none" stroke="#3c3c3c" stroke-width="1.3"/>
<line x1="454.5" y1="94.7" x2="511.9" y2="94.7" stroke="#111" stroke-width="1.3"/>
<path d="M458.6,95.2 V98.2 M468.1,95.2 V98.2 M477.4,95.2 V98.2 M492.7,95.2 V98.2 M506.7,95.2 V98.2 M482.01,95.2 V97.5 M484.7,95.2 V97.5 M486.61,95.2 V97.5 M488.09,95.2 V97.5 M489.31,95.2 V97.5 M490.33,95.2 V97.5 M491.22,95.2 V97.5 M492,95.2 V97.5 M496.91,95.2 V97.5 M499.38,95.2 V97.5 M501.13,95.2 V97.5 M502.49,95.2 V97.5 M503.59,95.2 V97.5 M504.53,95.2 V97.5 M505.34,95.2 V97.5 M506.06,95.2 V97.5 M469.03,95.2 V97.5 M467.15,95.2 V97.5 M469.96,95.2 V97.5 M466.2,95.2 V97.5 M470.89,95.2 V97.5 M465.25,95.2 V97.5 M471.82,95.2 V97.5 M464.3,95.2 V97.5 M472.75,95.2 V97.5 M463.35,95.2 V97.5 M473.68,95.2 V97.5 M462.4,95.2 V97.5 M474.61,95.2 V97.5 M461.45,95.2 V97.5 M475.54,95.2 V97.5 M460.5,95.2 V97.5 M476.47,95.2 V97.5 M459.55,95.2 V97.5 " stroke="#151515" stroke-width="0.75"/>
<text x="452.8" y="106.2" font-size="6.4" fill="#2b2b2b">-10</text>
<text x="462.08" y="104.1" font-size="3.3" fill="#2b2b2b">3</text>
<text x="467.6" y="106.2" font-size="6.4" text-anchor="middle" fill="#2b2b2b" font-weight="normal">0</text>
<text x="472.6" y="106.2" font-size="6.4" fill="#2b2b2b">10</text>
<text x="479.92" y="104.1" font-size="3.3" fill="#2b2b2b">3</text>
<text x="488" y="106.2" font-size="6.4" fill="#2b2b2b">10</text>
<text x="495.32" y="104.1" font-size="3.3" fill="#2b2b2b">4</text>
<text x="502" y="106.2" font-size="6.4" fill="#2b2b2b">10</text>
<text x="509.32" y="104.1" font-size="3.3" fill="#2b2b2b">5</text>
<text x="483.2" y="33.4" font-size="8.4" text-anchor="middle" fill="#1e1e1e" font-weight="normal" textLength="30" lengthAdjust="spacingAndGlyphs">NKG2D</text>
<text x="483.2" y="118.2" font-size="8.3" text-anchor="middle" fill="#222" font-weight="normal" textLength="47" lengthAdjust="spacingAndGlyphs">BV650 - NKG2D</text>
<line x1="455.6" y1="57.6" x2="466" y2="57.6" stroke="#de8aa2" stroke-width="1.1"/>
<line x1="480" y1="57.6" x2="510.8" y2="57.6" stroke="#de8aa2" stroke-width="1.1"/>
<path d="M466,57.6 L466.41,56.46 L466.98,54.87 L467.5,52.98 L468.05,49.81 L468.5,46.98 L468.86,45.15 L469.2,44.25 L469.58,44.62 L470,46.1 L470.46,48.88 L471,51.89 L471.46,53.85 L471.98,55.28 L472.5,56.51 L472.83,57.02 L473.17,57.14 L474,57.19 L474.4,57.24 L474.9,57.29 L475.47,57.33 L476.1,57.39 L476.76,57.43 L477.42,57.46 L478.07,57.5 L478.67,57.53 L479.21,57.56 L479.66,57.58 L480,57.6" fill="none" stroke="#c01c43" stroke-width="1.15" stroke-linejoin="round" stroke-linecap="round"/>
<line x1="455.6" y1="67" x2="466" y2="67" stroke="#a3d48e" stroke-width="1.1"/>
<line x1="488.1" y1="67" x2="510.8" y2="67" stroke="#a3d48e" stroke-width="1.1"/>
<path d="M466,67 L466.39,66.6 L466.94,66 L467.5,65.68 L467.98,65.13 L468.46,65.2 L469,65.34 L469.46,65.37 L469.97,65.45 L470.49,65.2 L471,65.43 L471.48,65.57 L471.94,65.86 L472.43,66.26 L473,66.31 L473.45,66.4 L473.96,66.31 L474.5,66.36 L475.04,66.22 L475.55,66.08 L476,66.07 L476.57,65.85 L477.06,65.18 L477.52,64.97 L478,64.57 L478.51,63.89 L479.02,63.51 L479.53,62.94 L480,62.62 L480.57,62.3 L481.1,62.28 L481.6,62.29 L482.06,62.34 L482.5,62.76 L483,63.4 L483.47,63.76 L483.99,63.55 L484.52,63.71 L485,63.82 L485.53,64.6 L486.01,64.99 L486.5,65.34 L487.09,65.97 L487.68,66.6 L488.1,67" fill="none" stroke="#6dbb4a" stroke-width="1.15" stroke-linejoin="round" stroke-linecap="round"/>
<line x1="455.6" y1="76.3" x2="467" y2="76.3" stroke="#f6c380" stroke-width="1.1"/>
<line x1="487" y1="76.3" x2="510.8" y2="76.3" stroke="#f6c380" stroke-width="1.1"/>
<path d="M467,76.3 L467.39,75.35 L467.94,73.97 L468.5,71.8 L469.02,69.06 L469.54,66.08 L470,63.45 L470.53,61.97 L471,61.7 L471.47,62.05 L472,62.41 L472.46,63.42 L472.98,64.51 L473.5,65.96 L474.02,67.98 L474.54,70.07 L475,71.43 L475.47,72.87 L476,74.01 L476.41,74.01 L476.88,74.01 L477.41,74.41 L478,74.27 L478.43,74.5 L478.89,74.41 L479.38,74.66 L479.89,74.59 L480.43,74.59 L481,74.65 L481.54,74.91 L482.13,75.05 L482.75,75.22 L483.37,75.16 L483.97,75.39 L484.52,75.47 L485,75.6 L485.69,75.76 L486.25,75.99 L486.69,76.18 L487,76.3" fill="none" stroke="#ef9a22" stroke-width="1.15" stroke-linejoin="round" stroke-linecap="round"/>
<line x1="455.6" y1="85.6" x2="468.6" y2="85.6" stroke="#abb5db" stroke-width="1.1"/>
<line x1="494.6" y1="85.6" x2="510.8" y2="85.6" stroke="#abb5db" stroke-width="1.1"/>
<path d="M468.6,85.6 L468.94,84.48 L469.44,82.27 L470,80.99 L470.43,80.36 L470.9,79.73 L471.42,78.62 L472,78.24 L472.45,78.8 L472.96,78.99 L473.5,78.91 L474.04,78.89 L474.55,79.72 L475,79.42 L475.57,79.57 L476.06,78.95 L476.52,78.66 L477,77.96 L477.5,78.47 L478,78.33 L478.5,78.75 L479,79.24 L479.5,79.24 L480,78.71 L480.5,78.66 L481,78.83 L481.48,79.1 L481.94,79.28 L482.43,79.42 L483,79.82 L483.45,80.36 L483.96,80.7 L484.5,80.32 L485.04,80.91 L485.55,81.27 L486,80.98 L486.55,81.84 L487,81.64 L487.45,82.27 L488,82.54 L488.44,82.78 L488.9,82.74 L489.4,83 L489.92,83.3 L490.45,83.41 L491,83.78 L491.51,83.93 L492.09,84.22 L492.69,84.43 L493.28,84.91 L493.82,85.17 L494.27,85.41 L494.6,85.6" fill="none" stroke="#2f4f9c" stroke-width="1.15" stroke-linejoin="round" stroke-linecap="round"/>
<path d="M465.8,95.2 C465.97,93.5 466.48,87.83 466.8,85 C467.12,82.17 467.4,78.2 467.7,78.2 C468,78.2 468.28,82.17 468.6,85 C468.92,87.83 469.43,93.5 469.6,95.2" fill="none" stroke="#5e2a80" stroke-width="1.2" stroke-linejoin="round" stroke-linecap="round"/>
<path d="M44.1,215.2 L44.1,158.5 L100.3,158.5 L100.3,215.2" fill="none" stroke="#3c3c3c" stroke-width="1.3"/>
<line x1="43.5" y1="214.7" x2="100.9" y2="214.7" stroke="#111" stroke-width="1.3"/>
<path d="M47.6,215.2 V218.2 M57.1,215.2 V218.2 M66.4,215.2 V218.2 M81.7,215.2 V218.2 M95.7,215.2 V218.2 M71.01,215.2 V217.5 M73.7,215.2 V217.5 M75.61,215.2 V217.5 M77.09,215.2 V217.5 M78.31,215.2 V217.5 M79.33,215.2 V217.5 M80.22,215.2 V217.5 M81,215.2 V217.5 M85.91,215.2 V217.5 M88.38,215.2 V217.5 M90.13,215.2 V217.5 M91.49,215.2 V217.5 M92.59,215.2 V217.5 M93.53,215.2 V217.5 M94.34,215.2 V217.5 M95.06,215.2 V217.5 M58.03,215.2 V217.5 M56.15,215.2 V217.5 M58.96,215.2 V217.5 M55.2,215.2 V217.5 M59.89,215.2 V217.5 M54.25,215.2 V217.5 M60.82,215.2 V217.5 M53.3,215.2 V217.5 M61.75,215.2 V217.5 M52.35,215.2 V217.5 M62.68,215.2 V217.5 M51.4,215.2 V217.5 M63.61,215.2 V217.5 M50.45,215.2 V217.5 M64.54,215.2 V217.5 M49.5,215.2 V217.5 M65.47,215.2 V217.5 M48.55,215.2 V217.5 " stroke="#151515" stroke-width="0.75"/>
<text x="41.8" y="226.2" font-size="6.4" fill="#2b2b2b">-10</text>
<text x="51.08" y="224.1" font-size="3.3" fill="#2b2b2b">3</text>
<text x="56.6" y="226.2" font-size="6.4" text-anchor="middle" fill="#2b2b2b" font-weight="normal">0</text>
<text x="61.6" y="226.2" font-size="6.4" fill="#2b2b2b">10</text>
<text x="68.92" y="224.1" font-size="3.3" fill="#2b2b2b">3</text>
<text x="77" y="226.2" font-size="6.4" fill="#2b2b2b">10</text>
<text x="84.32" y="224.1" font-size="3.3" fill="#2b2b2b">4</text>
<text x="91" y="226.2" font-size="6.4" fill="#2b2b2b">10</text>
<text x="98.32" y="224.1" font-size="3.3" fill="#2b2b2b">5</text>
<text x="72.2" y="153.7" font-size="8.4" text-anchor="middle" fill="#1e1e1e" font-weight="normal" textLength="30.3" lengthAdjust="spacingAndGlyphs">Perforin</text>
<text x="72.2" y="238.2" font-size="8.3" text-anchor="middle" fill="#222" font-weight="normal" textLength="50" lengthAdjust="spacingAndGlyphs">PerCP/Cy5.5 - Prf</text>
<line x1="44.6" y1="178.1" x2="56.8" y2="178.1" stroke="#de8aa2" stroke-width="1.1"/>
<line x1="71" y1="178.1" x2="99.8" y2="178.1" stroke="#de8aa2" stroke-width="1.1"/>
<path d="M56.8,178.1 C56.93,177.08 57.38,174.35 57.6,172 C57.82,169.65 57.93,165.92 58.1,164 C58.27,162.08 58.4,160.67 58.6,160.5 C58.8,160.33 59.03,161.67 59.3,163 C59.57,164.33 59.87,166.9 60.2,168.5 C60.53,170.1 60.83,171.52 61.3,172.6 C61.77,173.68 62.22,174.33 63,175 C63.78,175.67 65,176.13 66,176.6 C67,177.07 68.17,177.55 69,177.8 C69.83,178.05 70.67,178.05 71,178.1" fill="none" stroke="#c01c43" stroke-width="1.2" stroke-linejoin="round" stroke-linecap="round"/>
<line x1="44.6" y1="187.4" x2="57" y2="187.4" stroke="#a3d48e" stroke-width="1.1"/>
<line x1="72" y1="187.4" x2="99.8" y2="187.4" stroke="#a3d48e" stroke-width="1.1"/>
<path d="M57,187.4 C57.13,186.17 57.45,182.78 57.8,180 C58.15,177.22 58.73,171.7 59.1,170.7 C59.47,169.7 59.68,172.7 60,174 C60.32,175.3 60.58,177.2 61,178.5 C61.42,179.8 61.92,180.88 62.5,181.8 C63.08,182.72 63.75,183.38 64.5,184 C65.25,184.62 66.08,185.03 67,185.5 C67.92,185.97 69.17,186.48 70,186.8 C70.83,187.12 71.67,187.3 72,187.4" fill="none" stroke="#6dbb4a" stroke-width="1.2" stroke-linejoin="round" stroke-linecap="round"/>
<line x1="44.6" y1="196.7" x2="57" y2="196.7" stroke="#f6c380" stroke-width="1.1"/>
<line x1="74" y1="196.7" x2="99.8" y2="196.7" stroke="#f6c380" stroke-width="1.1"/>
<path d="M57,196.7 C57.13,195.25 57.53,190.95 57.8,188 C58.07,185.05 58.32,180 58.6,179 C58.88,178 59.18,180.83 59.5,182 C59.82,183.17 60.17,185.1 60.5,186 C60.83,186.9 61.08,186.82 61.5,187.4 C61.92,187.98 62.58,188.88 63,189.5 C63.42,190.12 63.5,190.6 64,191.1 C64.5,191.6 65.33,192.08 66,192.5 C66.67,192.92 67.33,193.18 68,193.6 C68.67,194.02 69.33,194.55 70,195 C70.67,195.45 71.33,196.02 72,196.3 C72.67,196.58 73.67,196.63 74,196.7" fill="none" stroke="#ef9a22" stroke-width="1.2" stroke-linejoin="round" stroke-linecap="round"/>
<line x1="44.6" y1="206" x2="56.3" y2="206" stroke="#abb5db" stroke-width="1.1"/>
<line x1="75.3" y1="206" x2="99.8" y2="206" stroke="#abb5db" stroke-width="1.1"/>
<path d="M56.3,206 L56.62,204.19 L57.07,201.56 L57.5,198.98 L58.01,196 L58.5,193.99 L58.98,193 L59.5,192.85 L59.9,193.14 L60.34,193.33 L60.8,193.48 L61.3,192.8 L61.81,191.58 L62.3,191.15 L62.73,191.08 L63.13,191.85 L63.5,192.11 L63.98,191.37 L64.5,190.32 L64.96,190.07 L65.48,189.66 L66,189.78 L66.5,189.65 L67,190.4 L67.5,191.2 L68,192.22 L68.5,193.66 L69,194.88 L69.52,196.72 L70.04,198.11 L70.5,199.68 L70.97,201.12 L71.5,202.07 L71.93,203.05 L72.45,203.86 L72.99,204.31 L73.5,204.98 L74.18,205.52 L74.84,205.8 L75.3,206" fill="none" stroke="#2f4f9c" stroke-width="1.15" stroke-linejoin="round" stroke-linecap="round"/>
<path d="M55.8,215.2 C55.92,213.5 56.28,207.93 56.5,205 C56.72,202.07 56.9,197.6 57.1,197.6 C57.3,197.6 57.47,202.07 57.7,205 C57.93,207.93 58.37,213.5 58.5,215.2" fill="none" stroke="#5e2a80" stroke-width="1.2" stroke-linejoin="round" stroke-linecap="round"/>
<path d="M127.5,215.1 L127.5,158.7 L183.5,158.7 L183.5,215.1" fill="none" stroke="#3c3c3c" stroke-width="1.3"/>
<line x1="126.9" y1="214.6" x2="184.1" y2="214.6" stroke="#111" stroke-width="1.3"/>
<path d="M131,215.1 V218.1 M140.5,215.1 V218.1 M149.8,215.1 V218.1 M165.1,215.1 V218.1 M179.1,215.1 V218.1 M154.41,215.1 V217.4 M157.1,215.1 V217.4 M159.01,215.1 V217.4 M160.49,215.1 V217.4 M161.71,215.1 V217.4 M162.73,215.1 V217.4 M163.62,215.1 V217.4 M164.4,215.1 V217.4 M169.31,215.1 V217.4 M171.78,215.1 V217.4 M173.53,215.1 V217.4 M174.89,215.1 V217.4 M175.99,215.1 V217.4 M176.93,215.1 V217.4 M177.74,215.1 V217.4 M178.46,215.1 V217.4 M141.43,215.1 V217.4 M139.55,215.1 V217.4 M142.36,215.1 V217.4 M138.6,215.1 V217.4 M143.29,215.1 V217.4 M137.65,215.1 V217.4 M144.22,215.1 V217.4 M136.7,215.1 V217.4 M145.15,215.1 V217.4 M135.75,215.1 V217.4 M146.08,215.1 V217.4 M134.8,215.1 V217.4 M147.01,215.1 V217.4 M133.85,215.1 V217.4 M147.94,215.1 V217.4 M132.9,215.1 V217.4 M148.87,215.1 V217.4 M131.95,215.1 V217.4 " stroke="#151515" stroke-width="0.75"/>
<text x="125.2" y="226.1" font-size="6.4" fill="#2b2b2b">-10</text>
<text x="134.48" y="224" font-size="3.3" fill="#2b2b2b">3</text>
<text x="140" y="226.1" font-size="6.4" text-anchor="middle" fill="#2b2b2b" font-weight="normal">0</text>
<text x="145" y="226.1" font-size="6.4" fill="#2b2b2b">10</text>
<text x="152.32" y="224" font-size="3.3" fill="#2b2b2b">3</text>
<text x="160.4" y="226.1" font-size="6.4" fill="#2b2b2b">10</text>
<text x="167.72" y="224" font-size="3.3" fill="#2b2b2b">4</text>
<text x="174.4" y="226.1" font-size="6.4" fill="#2b2b2b">10</text>
<text x="181.72" y="224" font-size="3.3" fill="#2b2b2b">5</text>
<text x="155.5" y="153.9" font-size="8.4" text-anchor="middle" fill="#1e1e1e" font-weight="normal" textLength="48" lengthAdjust="spacingAndGlyphs">Granzyme B</text>
<text x="155.5" y="238.1" font-size="8.3" text-anchor="middle" fill="#222" font-weight="normal" textLength="62.6" lengthAdjust="spacingAndGlyphs">APC/fire 750 - Gzm B</text>
<line x1="128" y1="178.1" x2="145.5" y2="178.1" stroke="#de8aa2" stroke-width="1.1"/>
<line x1="165.5" y1="178.1" x2="183" y2="178.1" stroke="#de8aa2" stroke-width="1.1"/>
<path d="M145.5,178.07 C145.58,178.07 145.83,178.06 146,178.05 C146.17,178.03 146.33,178.02 146.5,178 C146.67,177.98 146.83,177.96 147,177.93 C147.17,177.9 147.33,177.86 147.5,177.81 C147.67,177.76 147.83,177.7 148,177.63 C148.17,177.55 148.33,177.46 148.5,177.35 C148.67,177.23 148.83,177.11 149,176.94 C149.17,176.78 149.33,176.6 149.5,176.38 C149.67,176.16 149.83,175.91 150,175.62 C150.17,175.32 150.33,175 150.5,174.63 C150.67,174.26 150.83,173.85 151,173.4 C151.17,172.95 151.33,172.46 151.5,171.94 C151.67,171.41 151.83,170.85 152,170.27 C152.17,169.69 152.33,169.08 152.5,168.47 C152.67,167.86 152.83,167.22 153,166.62 C153.17,166.02 153.33,165.41 153.5,164.85 C153.67,164.29 153.83,163.75 154,163.29 C154.17,162.82 154.33,162.39 154.5,162.06 C154.67,161.72 154.83,161.45 155,161.27 C155.17,161.09 155.33,161 155.5,161 C155.67,161 155.83,161.09 156,161.25 C156.17,161.42 156.33,161.67 156.5,161.99 C156.67,162.3 156.83,162.7 157,163.14 C157.17,163.58 157.33,164.09 157.5,164.62 C157.67,165.15 157.83,165.73 158,166.31 C158.17,166.88 158.33,167.5 158.5,168.09 C158.67,168.68 158.83,169.28 159,169.85 C159.17,170.41 159.33,170.97 159.5,171.49 C159.67,172.02 159.83,172.51 160,172.97 C160.17,173.43 160.33,173.85 160.5,174.23 C160.67,174.62 160.83,174.96 161,175.27 C161.17,175.58 161.33,175.85 161.5,176.09 C161.67,176.33 161.83,176.53 162,176.71 C162.17,176.89 162.33,177.04 162.5,177.17 C162.67,177.3 162.83,177.41 163,177.5 C163.17,177.59 163.33,177.66 163.5,177.72 C163.67,177.78 163.83,177.83 164,177.87 C164.17,177.91 164.33,177.94 164.5,177.96 C164.67,177.99 164.83,178 165,178.02 C165.17,178.04 165.42,178.05 165.5,178.06" fill="none" stroke="#c01c43" stroke-width="1.2" stroke-linejoin="round" stroke-linecap="round"/>
<line x1="128" y1="187.4" x2="145.5" y2="187.4" stroke="#a3d48e" stroke-width="1.1"/>
<line x1="167" y1="187.4" x2="183" y2="187.4" stroke="#a3d48e" stroke-width="1.1"/>
<path d="M145.5,187.36 C145.58,187.36 145.83,187.34 146,187.33 C146.17,187.31 146.33,187.3 146.5,187.27 C146.67,187.25 146.83,187.22 147,187.18 C147.17,187.14 147.33,187.1 147.5,187.04 C147.67,186.98 147.83,186.91 148,186.82 C148.17,186.73 148.33,186.63 148.5,186.5 C148.67,186.37 148.83,186.22 149,186.04 C149.17,185.86 149.33,185.65 149.5,185.41 C149.67,185.17 149.83,184.9 150,184.58 C150.17,184.27 150.33,183.92 150.5,183.54 C150.67,183.15 150.83,182.73 151,182.27 C151.17,181.81 151.33,181.32 151.5,180.8 C151.67,180.29 151.83,179.73 152,179.18 C152.17,178.62 152.33,178.04 152.5,177.47 C152.67,176.91 152.83,176.33 153,175.8 C153.17,175.26 153.33,174.73 153.5,174.26 C153.67,173.79 153.83,173.35 154,172.99 C154.17,172.62 154.33,172.31 154.5,172.09 C154.67,171.86 154.83,171.71 155,171.64 C155.17,171.57 155.33,171.6 155.5,171.67 C155.67,171.73 155.83,171.87 156,172.06 C156.17,172.24 156.33,172.49 156.5,172.78 C156.67,173.07 156.83,173.41 157,173.78 C157.17,174.16 157.33,174.58 157.5,175.01 C157.67,175.44 157.83,175.91 158,176.38 C158.17,176.84 158.33,177.34 158.5,177.82 C158.67,178.3 158.83,178.79 159,179.26 C159.17,179.73 159.33,180.2 159.5,180.64 C159.67,181.08 159.83,181.51 160,181.91 C160.17,182.32 160.33,182.7 160.5,183.05 C160.67,183.4 160.83,183.73 161,184.03 C161.17,184.33 161.33,184.6 161.5,184.85 C161.67,185.09 161.83,185.31 162,185.51 C162.17,185.71 162.33,185.88 162.5,186.03 C162.67,186.19 162.83,186.32 163,186.43 C163.17,186.55 163.33,186.65 163.5,186.73 C163.67,186.82 163.83,186.89 164,186.95 C164.17,187.01 164.33,187.06 164.5,187.1 C164.67,187.15 164.83,187.18 165,187.21 C165.17,187.24 165.33,187.26 165.5,187.28 C165.67,187.3 165.83,187.31 166,187.33 C166.17,187.34 166.33,187.35 166.5,187.36 C166.67,187.36 166.92,187.37 167,187.37" fill="none" stroke="#6dbb4a" stroke-width="1.2" stroke-linejoin="round" stroke-linecap="round"/>
<line x1="128" y1="196.7" x2="147.5" y2="196.7" stroke="#f6c380" stroke-width="1.1"/>
<line x1="167.5" y1="196.7" x2="183" y2="196.7" stroke="#f6c380" stroke-width="1.1"/>
<path d="M147.5,196.65 C147.58,196.64 147.83,196.63 148,196.61 C148.17,196.59 148.33,196.57 148.5,196.54 C148.67,196.51 148.83,196.48 149,196.43 C149.17,196.39 149.33,196.34 149.5,196.27 C149.67,196.2 149.83,196.12 150,196.02 C150.17,195.92 150.33,195.8 150.5,195.66 C150.67,195.51 150.83,195.35 151,195.15 C151.17,194.95 151.33,194.73 151.5,194.47 C151.67,194.2 151.83,193.91 152,193.57 C152.17,193.24 152.33,192.87 152.5,192.45 C152.67,192.04 152.83,191.59 153,191.1 C153.17,190.61 153.33,190.09 153.5,189.53 C153.67,188.98 153.83,188.39 154,187.8 C154.17,187.2 154.33,186.58 154.5,185.96 C154.67,185.35 154.83,184.72 155,184.13 C155.17,183.54 155.33,182.95 155.5,182.42 C155.67,181.89 155.83,181.38 156,180.95 C156.17,180.52 156.33,180.13 156.5,179.83 C156.67,179.54 156.83,179.3 157,179.17 C157.17,179.03 157.33,178.98 157.5,179.01 C157.67,179.04 157.83,179.16 158,179.35 C158.17,179.54 158.33,179.82 158.5,180.15 C158.67,180.48 158.83,180.9 159,181.35 C159.17,181.8 159.33,182.31 159.5,182.85 C159.67,183.38 159.83,183.96 160,184.54 C160.17,185.12 160.33,185.73 160.5,186.32 C160.67,186.91 160.83,187.51 161,188.08 C161.17,188.65 161.33,189.22 161.5,189.74 C161.67,190.27 161.83,190.77 162,191.24 C162.17,191.7 162.33,192.13 162.5,192.53 C162.67,192.92 162.83,193.28 163,193.6 C163.17,193.92 163.33,194.21 163.5,194.46 C163.67,194.71 163.83,194.93 164,195.13 C164.17,195.32 164.33,195.48 164.5,195.62 C164.67,195.77 164.83,195.88 165,195.98 C165.17,196.09 165.33,196.17 165.5,196.24 C165.67,196.31 165.83,196.36 166,196.41 C166.17,196.46 166.33,196.49 166.5,196.52 C166.67,196.55 166.83,196.57 167,196.59 C167.17,196.61 167.42,196.63 167.5,196.64" fill="none" stroke="#ef9a22" stroke-width="1.2" stroke-linejoin="round" stroke-linecap="round"/>
<line x1="128" y1="206" x2="146.5" y2="206" stroke="#abb5db" stroke-width="1.1"/>
<line x1="171" y1="206" x2="183" y2="206" stroke="#abb5db" stroke-width="1.1"/>
<path d="M146.5,205.96 C146.58,205.96 146.83,205.95 147,205.94 C147.17,205.93 147.33,205.91 147.5,205.9 C147.67,205.88 147.83,205.86 148,205.84 C148.17,205.81 148.33,205.79 148.5,205.75 C148.67,205.72 148.83,205.68 149,205.63 C149.17,205.57 149.33,205.52 149.5,205.45 C149.67,205.37 149.83,205.29 150,205.2 C150.17,205.1 150.33,204.99 150.5,204.86 C150.67,204.73 150.83,204.59 151,204.42 C151.17,204.26 151.33,204.07 151.5,203.86 C151.67,203.65 151.83,203.42 152,203.16 C152.17,202.9 152.33,202.62 152.5,202.31 C152.67,202 152.83,201.67 153,201.31 C153.17,200.95 153.33,200.57 153.5,200.17 C153.67,199.77 153.83,199.34 154,198.9 C154.17,198.46 154.33,198 154.5,197.54 C154.67,197.08 154.83,196.6 155,196.14 C155.17,195.67 155.33,195.19 155.5,194.74 C155.67,194.29 155.83,193.84 156,193.43 C156.17,193.02 156.33,192.62 156.5,192.27 C156.67,191.91 156.83,191.59 157,191.31 C157.17,191.04 157.33,190.81 157.5,190.63 C157.67,190.46 157.83,190.33 158,190.26 C158.17,190.19 158.33,190.19 158.5,190.22 C158.67,190.26 158.83,190.34 159,190.47 C159.17,190.59 159.33,190.76 159.5,190.97 C159.67,191.17 159.83,191.43 160,191.7 C160.17,191.98 160.33,192.3 160.5,192.64 C160.67,192.97 160.83,193.34 161,193.72 C161.17,194.1 161.33,194.51 161.5,194.92 C161.67,195.32 161.83,195.75 162,196.16 C162.17,196.58 162.33,197.01 162.5,197.42 C162.67,197.84 162.83,198.25 163,198.65 C163.17,199.04 163.33,199.43 163.5,199.81 C163.67,200.18 163.83,200.53 164,200.87 C164.17,201.21 164.33,201.53 164.5,201.83 C164.67,202.12 164.83,202.4 165,202.66 C165.17,202.92 165.33,203.16 165.5,203.38 C165.67,203.59 165.83,203.79 166,203.97 C166.17,204.15 166.33,204.31 166.5,204.46 C166.67,204.61 166.83,204.73 167,204.85 C167.17,204.97 167.33,205.07 167.5,205.16 C167.67,205.25 167.83,205.32 168,205.39 C168.17,205.46 168.33,205.52 168.5,205.57 C168.67,205.62 168.83,205.66 169,205.7 C169.17,205.74 169.33,205.77 169.5,205.79 C169.67,205.82 169.83,205.84 170,205.86 C170.17,205.88 170.33,205.9 170.5,205.91 C170.67,205.92 170.92,205.94 171,205.94" fill="none" stroke="#2f4f9c" stroke-width="1.2" stroke-linejoin="round" stroke-linecap="round"/>
<path d="M133.5,214.96 C133.58,214.93 133.83,214.88 134,214.8 C134.17,214.72 134.33,214.63 134.5,214.49 C134.67,214.34 134.83,214.17 135,213.93 C135.17,213.69 135.33,213.4 135.5,213.02 C135.67,212.64 135.83,212.19 136,211.65 C136.17,211.11 136.33,210.47 136.5,209.77 C136.67,209.06 136.83,208.24 137,207.4 C137.17,206.56 137.33,205.62 137.5,204.73 C137.67,203.84 137.83,202.88 138,202.07 C138.17,201.25 138.33,200.43 138.5,199.81 C138.67,199.2 138.83,198.67 139,198.37 C139.17,198.08 139.33,197.97 139.5,198.02 C139.67,198.07 139.83,198.32 140,198.68 C140.17,199.05 140.33,199.59 140.5,200.19 C140.67,200.8 140.83,201.55 141,202.31 C141.17,203.06 141.33,203.92 141.5,204.73 C141.67,205.54 141.83,206.38 142,207.15 C142.17,207.92 142.33,208.68 142.5,209.35 C142.67,210.02 142.83,210.63 143,211.17 C143.17,211.7 143.33,212.16 143.5,212.56 C143.67,212.95 143.83,213.27 144,213.55 C144.17,213.82 144.33,214.03 144.5,214.2 C144.67,214.38 144.83,214.5 145,214.61 C145.17,214.72 145.33,214.79 145.5,214.85 C145.67,214.91 145.92,214.96 146,214.98" fill="none" stroke="#5e2a80" stroke-width="1.2" stroke-linejoin="round" stroke-linecap="round"/>
<path d="M211.1,215 L211.1,158.7 L267.3,158.7 L267.3,215" fill="none" stroke="#3c3c3c" stroke-width="1.3"/>
<line x1="210.5" y1="214.5" x2="267.9" y2="214.5" stroke="#111" stroke-width="1.3"/>
<path d="M214.6,215 V218 M224.1,215 V218 M233.4,215 V218 M248.7,215 V218 M262.7,215 V218 M238.01,215 V217.3 M240.7,215 V217.3 M242.61,215 V217.3 M244.09,215 V217.3 M245.31,215 V217.3 M246.33,215 V217.3 M247.22,215 V217.3 M248,215 V217.3 M252.91,215 V217.3 M255.38,215 V217.3 M257.13,215 V217.3 M258.49,215 V217.3 M259.59,215 V217.3 M260.53,215 V217.3 M261.34,215 V217.3 M262.06,215 V217.3 M225.03,215 V217.3 M223.15,215 V217.3 M225.96,215 V217.3 M222.2,215 V217.3 M226.89,215 V217.3 M221.25,215 V217.3 M227.82,215 V217.3 M220.3,215 V217.3 M228.75,215 V217.3 M219.35,215 V217.3 M229.68,215 V217.3 M218.4,215 V217.3 M230.61,215 V217.3 M217.45,215 V217.3 M231.54,215 V217.3 M216.5,215 V217.3 M232.47,215 V217.3 M215.55,215 V217.3 " stroke="#151515" stroke-width="0.75"/>
<text x="208.8" y="226" font-size="6.4" fill="#2b2b2b">-10</text>
<text x="218.08" y="223.9" font-size="3.3" fill="#2b2b2b">3</text>
<text x="223.6" y="226" font-size="6.4" text-anchor="middle" fill="#2b2b2b" font-weight="normal">0</text>
<text x="228.6" y="226" font-size="6.4" fill="#2b2b2b">10</text>
<text x="235.92" y="223.9" font-size="3.3" fill="#2b2b2b">3</text>
<text x="244" y="226" font-size="6.4" fill="#2b2b2b">10</text>
<text x="251.32" y="223.9" font-size="3.3" fill="#2b2b2b">4</text>
<text x="258" y="226" font-size="6.4" fill="#2b2b2b">10</text>
<text x="265.32" y="223.9" font-size="3.3" fill="#2b2b2b">5</text>
<text x="239.2" y="153.9" font-size="8.4" text-anchor="middle" fill="#1e1e1e" font-weight="normal" textLength="40.4" lengthAdjust="spacingAndGlyphs">Granulysin</text>
<text x="239.2" y="238" font-size="8.3" text-anchor="middle" fill="#222" font-weight="normal" textLength="45.1" lengthAdjust="spacingAndGlyphs">PE - granulysin</text>
<line x1="211.6" y1="178.1" x2="224.6" y2="178.1" stroke="#de8aa2" stroke-width="1.1"/>
<line x1="266.8" y1="178.1" x2="266.8" y2="178.1" stroke="#de8aa2" stroke-width="1.1"/>
<path d="M224.6,178.1 L224.94,177.48 L225.43,176.52 L225.97,175.46 L226.5,173.93 L227,172.19 L227.53,170.11 L228.03,167.79 L228.5,165.95 L229.05,164.11 L229.55,162.57 L230,161.41 L230.56,160.59 L231.1,160.43 L231.54,160.68 L232.01,160.94 L232.5,161.58 L232.95,162.33 L233.41,163.63 L234,164.92 L234.47,166.07 L235.01,167.34 L235.59,168.57 L236.17,169.85 L236.7,170.71 L237.29,171.46 L237.83,171.97 L238.39,172.12 L239,172.6 L239.45,172.74 L239.91,172.87 L240.39,173.11 L240.9,173.15 L241.43,173.44 L242,173.52 L242.52,173.62 L243.07,173.84 L243.64,173.93 L244.23,174.02 L244.83,174.28 L245.42,174.28 L246,174.56 L246.56,174.57 L247.11,174.77 L247.66,174.94 L248.22,174.97 L248.78,175.1 L249.38,175.14 L250,175.2 L250.51,175.31 L251.04,175.44 L251.59,175.65 L252.15,175.72 L252.72,175.85 L253.3,176.03 L253.87,176.02 L254.44,176.15 L255,176.32 L255.55,176.34 L256.08,176.45 L256.6,176.61 L257.12,176.69 L257.65,176.82 L258.2,176.91 L258.77,177.04 L259.37,177.13 L260,177.18 L260.53,177.27 L261.11,177.31 L261.73,177.34 L262.39,177.44 L263.05,177.45 L263.71,177.49 L264.36,177.53 L264.97,177.59 L265.54,177.63 L266.04,177.66 L266.47,177.67 L266.8,177.7" fill="none" stroke="#c01c43" stroke-width="1.15" stroke-linejoin="round" stroke-linecap="round"/>
<line x1="211.6" y1="187.4" x2="224.6" y2="187.4" stroke="#a3d48e" stroke-width="1.1"/>
<line x1="266.8" y1="187.4" x2="266.8" y2="187.4" stroke="#a3d48e" stroke-width="1.1"/>
<path d="M224.6,187.4 L224.94,186.46 L225.43,185.07 L225.97,183.7 L226.5,182.02 L227.01,180 L227.55,177.83 L228.06,175.62 L228.5,174.13 L229.09,172.45 L229.6,171.92 L230.02,172.38 L230.48,172.83 L231,174.01 L231.46,175.07 L231.98,176.39 L232.5,177.72 L233,179.08 L233.43,179.69 L233.82,180.52 L234.26,181.17 L234.8,181.39 L235.25,181.67 L235.77,182 L236.32,182.13 L236.9,182.3 L237.46,182.47 L238,182.4 L238.5,182.55 L238.98,182.64 L239.45,182.63 L239.93,182.95 L240.44,183 L241,183.06 L241.51,182.94 L242.04,183.28 L242.59,183.35 L243.16,183.37 L243.76,183.55 L244.37,183.57 L245,183.62 L245.51,183.67 L246.04,183.81 L246.59,183.85 L247.15,184.04 L247.72,184.26 L248.3,184.35 L248.87,184.5 L249.44,184.56 L250,184.53 L250.56,184.72 L251.11,184.79 L251.67,185 L252.22,185.03 L252.78,185.06 L253.33,185.27 L253.89,185.44 L254.44,185.35 L255,185.59 L255.55,185.47 L256.08,185.59 L256.6,185.64 L257.12,185.8 L257.65,185.89 L258.2,185.89 L258.77,185.87 L259.37,186.01 L260,185.97 L260.53,186 L261.11,186.15 L261.73,186.16 L262.39,186.21 L263.05,186.26 L263.71,186.35 L264.36,186.32 L264.97,186.41 L265.54,186.43 L266.04,186.49 L266.47,186.47 L266.8,186.5" fill="none" stroke="#6dbb4a" stroke-width="1.15" stroke-linejoin="round" stroke-linecap="round"/>
<line x1="211.6" y1="196.7" x2="226.5" y2="196.7" stroke="#f6c380" stroke-width="1.1"/>
<line x1="256.2" y1="196.7" x2="266.8" y2="196.7" stroke="#f6c380" stroke-width="1.1"/>
<path d="M226.5,196.7 L226.85,196.15 L227.34,195.36 L227.92,194.26 L228.5,192.91 L228.98,191.66 L229.49,189.84 L230.01,188.31 L230.52,186.37 L231,184.86 L231.54,183.34 L232.04,182.22 L232.53,180.89 L233,179.89 L233.47,179.18 L233.92,178.74 L234.36,178.67 L234.8,178.54 L235.36,178.66 L235.91,179.05 L236.5,179.37 L236.96,180.02 L237.43,180.55 L237.94,181.32 L238.5,181.9 L239.01,182.34 L239.57,182.51 L240.15,183.15 L240.73,183.52 L241.3,183.83 L241.84,183.81 L242.37,184 L242.9,184.1 L243.44,184.21 L244,184.6 L244.49,184.74 L245.01,184.82 L245.54,185.02 L246.06,185.12 L246.55,185.21 L247,185.38 L247.57,185.81 L248.06,186.53 L248.52,186.9 L249,187.45 L249.5,187.92 L250,188.21 L250.5,188.72 L251,189.23 L251.47,189.93 L251.93,190.43 L252.42,191.11 L253,192.14 L253.5,192.72 L254.1,193.7 L254.72,194.55 L255.33,195.33 L255.84,196.16 L256.2,196.7" fill="none" stroke="#ef9a22" stroke-width="1.15" stroke-linejoin="round" stroke-linecap="round"/>
<line x1="211.6" y1="206" x2="225.2" y2="206" stroke="#abb5db" stroke-width="1.1"/>
<line x1="266.8" y1="206" x2="266.8" y2="206" stroke="#abb5db" stroke-width="1.1"/>
<path d="M225.2,206 L225.53,205.49 L226,204.92 L226.5,203.88 L226.97,203.34 L227.46,202.23 L228,201.02 L228.44,201.04 L228.91,199.66 L229.42,199.82 L230,198.67 L230.44,198.21 L230.93,198.16 L231.44,198.49 L231.96,198.49 L232.49,197.31 L233,197.59 L233.49,197.39 L233.96,197.5 L234.44,196.7 L234.93,196.83 L235.44,196.51 L236,196.83 L236.54,196.14 L237.13,196.72 L237.75,195.97 L238.37,195.8 L238.97,196.18 L239.52,195.86 L240,195.31 L240.64,195.45 L241.12,194.41 L241.55,194.65 L242,194.2 L242.51,194.1 L243.03,193.87 L243.54,193.52 L244,193.4 L244.56,192.93 L245.06,192.85 L245.5,191.59 L246.01,192.13 L246.5,191.03 L246.91,190.74 L247.36,190.23 L247.8,190.6 L248.39,190.83 L249,191.38 L249.48,191.63 L249.99,190.47 L250.5,190.46 L250.98,190.86 L251.46,191.7 L252,192.25 L252.44,192.39 L252.91,192.27 L253.42,192.47 L254,192.66 L254.44,193.69 L254.93,193.93 L255.44,194.48 L255.96,194.4 L256.49,195.16 L257,195.97 L257.5,196.23 L258,196.22 L258.5,197 L259,197.88 L259.5,197.72 L260,198.19 L260.51,198.88 L261.04,199.92 L261.56,200.72 L262.07,200.69 L262.56,201.31 L263,201.95 L263.57,202.73 L264.07,203.53 L264.54,203.78 L265,204.4 L265.51,204.75 L266.03,205.35 L266.48,205.48 L266.8,205.6" fill="none" stroke="#2f4f9c" stroke-width="1.15" stroke-linejoin="round" stroke-linecap="round"/>
<path d="M222.9,215 C222.95,212.5 223.07,202.9 223.2,200 C223.33,197.1 223.53,197.6 223.7,197.6 C223.87,197.6 224.07,197.1 224.2,200 C224.33,202.9 224.45,212.5 224.5,215" fill="none" stroke="#5e2a80" stroke-width="1.2" stroke-linejoin="round" stroke-linecap="round"/>
<line x1="204.9" y1="23.4" x2="204.9" y2="95.25" stroke="#1a1a1a" stroke-width="1.3"/>
<line x1="204.25" y1="94.6" x2="250.2" y2="94.6" stroke="#1a1a1a" stroke-width="1.3"/>
<path d="M202.1,26.6 H204.9 M202.1,40 H204.9 M202.1,53.6 H204.9 M202.1,67.35 H204.9 M202.1,80.9 H204.9 M202.1,94.5 H204.9 M212,94.6 V97.2 M222.3,94.6 V97.2 M232.7,94.6 V97.2 M243.3,94.6 V97.2 " stroke="#1a1a1a" stroke-width="1"/>
<text x="198.8" y="29" font-size="6.7" text-anchor="end" fill="#2b2b2b" font-weight="normal">16</text>
<text x="198.8" y="42.4" font-size="6.7" text-anchor="end" fill="#2b2b2b" font-weight="normal">8</text>
<text x="198.8" y="56" font-size="6.7" text-anchor="end" fill="#2b2b2b" font-weight="normal">4</text>
<text x="198.8" y="69.75" font-size="6.7" text-anchor="end" fill="#2b2b2b" font-weight="normal">2</text>
<text x="198.8" y="83.3" font-size="6.7" text-anchor="end" fill="#2b2b2b" font-weight="normal">1</text>
<text x="198.8" y="96.9" font-size="6.7" text-anchor="end" fill="#2b2b2b" font-weight="normal">0.5</text>
<line x1="212" y1="39.8" x2="212" y2="87.9" stroke="#d9507a" stroke-width="1.1"/>
<line x1="210.2" y1="39.8" x2="213.8" y2="39.8" stroke="#d9507a" stroke-width="1.3"/>
<line x1="210.2" y1="87.9" x2="213.8" y2="87.9" stroke="#d9507a" stroke-width="1.3"/>
<rect x="208.75" y="56.9" width="6.5" height="23.5" fill="#da9283" stroke="#c96f66" stroke-width="0.5"/>
<line x1="208.75" y1="74.3" x2="215.25" y2="74.3" stroke="#c81e3c" stroke-width="1.5"/>
<circle cx="212" cy="39.8" r="0.9" fill="#111"/>
<circle cx="212" cy="87.9" r="0.9" fill="#111"/>
<circle cx="210.8" cy="57.5" r="0.9" fill="#111"/>
<circle cx="213.2" cy="79.8" r="0.9" fill="#111"/>
<circle cx="211" cy="74.3" r="0.9" fill="#111"/>
<circle cx="213" cy="65.6" r="0.9" fill="#111"/>
<circle cx="211.6" cy="77.35" r="0.9" fill="#111"/>
<circle cx="213.1" cy="74.6" r="0.9" fill="#111"/>
<line x1="222.3" y1="57.4" x2="222.3" y2="83.5" stroke="#62b544" stroke-width="1.1"/>
<line x1="220.5" y1="57.4" x2="224.1" y2="57.4" stroke="#62b544" stroke-width="1.3"/>
<line x1="220.5" y1="83.5" x2="224.1" y2="83.5" stroke="#62b544" stroke-width="1.3"/>
<rect x="219.05" y="63.3" width="6.5" height="17" fill="#b4d99f" stroke="#8fc46f" stroke-width="0.5"/>
<line x1="219.05" y1="79.3" x2="225.55" y2="79.3" stroke="#4e9e33" stroke-width="1.5"/>
<circle cx="222.3" cy="57.4" r="0.9" fill="#111"/>
<circle cx="222.3" cy="83.5" r="0.9" fill="#111"/>
<circle cx="221.1" cy="63.9" r="0.9" fill="#111"/>
<circle cx="223.5" cy="79.7" r="0.9" fill="#111"/>
<circle cx="221.3" cy="79.3" r="0.9" fill="#111"/>
<circle cx="223.3" cy="71.3" r="0.9" fill="#111"/>
<circle cx="221.9" cy="79.8" r="0.9" fill="#111"/>
<circle cx="223.4" cy="79.6" r="0.9" fill="#111"/>
<line x1="232.7" y1="42.6" x2="232.7" y2="82.6" stroke="#f2a332" stroke-width="1.1"/>
<line x1="230.9" y1="42.6" x2="234.5" y2="42.6" stroke="#f2a332" stroke-width="1.3"/>
<line x1="230.9" y1="82.6" x2="234.5" y2="82.6" stroke="#f2a332" stroke-width="1.3"/>
<rect x="229.45" y="60" width="6.5" height="12.5" fill="#f7cb8f" stroke="#efb261" stroke-width="0.5"/>
<line x1="229.45" y1="72.3" x2="235.95" y2="72.3" stroke="#ef8f14" stroke-width="1.5"/>
<circle cx="232.7" cy="42.6" r="0.9" fill="#111"/>
<circle cx="232.7" cy="82.6" r="0.9" fill="#111"/>
<circle cx="231.5" cy="60.6" r="0.9" fill="#111"/>
<circle cx="233.9" cy="71.9" r="0.9" fill="#111"/>
<circle cx="231.7" cy="72.3" r="0.9" fill="#111"/>
<circle cx="233.7" cy="66.15" r="0.9" fill="#111"/>
<circle cx="232.3" cy="72.4" r="0.9" fill="#111"/>
<circle cx="233.8" cy="72.6" r="0.9" fill="#111"/>
<line x1="243.3" y1="51" x2="243.3" y2="80.5" stroke="#4565ad" stroke-width="1.1"/>
<line x1="241.5" y1="51" x2="245.1" y2="51" stroke="#4565ad" stroke-width="1.3"/>
<line x1="241.5" y1="80.5" x2="245.1" y2="80.5" stroke="#4565ad" stroke-width="1.3"/>
<rect x="240.05" y="66.8" width="6.5" height="13.5" fill="#98a2d0" stroke="#7a88c4" stroke-width="0.5"/>
<line x1="240.05" y1="76.3" x2="246.55" y2="76.3" stroke="#2a4a9a" stroke-width="1.5"/>
<circle cx="243.3" cy="51" r="0.9" fill="#111"/>
<circle cx="243.3" cy="80.5" r="0.9" fill="#111"/>
<circle cx="242.1" cy="67.4" r="0.9" fill="#111"/>
<circle cx="244.5" cy="79.7" r="0.9" fill="#111"/>
<circle cx="242.3" cy="76.3" r="0.9" fill="#111"/>
<circle cx="244.3" cy="71.55" r="0.9" fill="#111"/>
<circle cx="242.9" cy="78.3" r="0.9" fill="#111"/>
<circle cx="244.4" cy="76.6" r="0.9" fill="#111"/>
<text x="204.5" y="106.7" font-size="6.4" text-anchor="end" fill="#2b2b2b" font-weight="normal" textLength="17.6" lengthAdjust="spacingAndGlyphs">HLA-II</text>
<text x="204.5" y="116.6" font-size="6.4" text-anchor="end" fill="#2b2b2b" font-weight="normal" textLength="19.2" lengthAdjust="spacingAndGlyphs">CD161</text>
<text x="212" y="106.7" font-size="6.4" text-anchor="middle" fill="#2b2b2b" font-weight="normal" textLength="9.4" lengthAdjust="spacingAndGlyphs">-/lo</text>
<text x="212" y="116.6" font-size="6.4" text-anchor="middle" fill="#2b2b2b" font-weight="normal">-</text>
<text x="222.3" y="106.7" font-size="6.4" text-anchor="middle" fill="#2b2b2b" font-weight="normal" textLength="9.4" lengthAdjust="spacingAndGlyphs">-/lo</text>
<text x="222.3" y="116.6" font-size="6.4" text-anchor="middle" fill="#2b2b2b" font-weight="normal">+</text>
<text x="232.7" y="106.7" font-size="6.4" text-anchor="middle" fill="#2b2b2b" font-weight="normal">+</text>
<text x="232.7" y="116.6" font-size="6.4" text-anchor="middle" fill="#2b2b2b" font-weight="normal">-</text>
<text x="243.3" y="106.7" font-size="6.4" text-anchor="middle" fill="#2b2b2b" font-weight="normal">+</text>
<text x="243.3" y="116.6" font-size="6.4" text-anchor="middle" fill="#2b2b2b" font-weight="normal">+</text>
<line x1="222.2" y1="38.6" x2="243.6" y2="38.6" stroke="#2a2a2a" stroke-width="1.15" stroke-linecap="round"/>
<circle cx="222.2" cy="38.6" r="0.85" fill="#111"/><circle cx="243.6" cy="38.6" r="0.85" fill="#111"/>
<path d="M227.8,35.05 L227.8,37.15 M226.89,35.58 L228.71,36.62 M226.89,36.62 L228.71,35.58 " stroke="#111" stroke-width="0.85" stroke-linecap="round"/>
<circle cx="227.8" cy="36.1" r="0.55" fill="#111"/>
<path d="M238.2,35.05 L238.2,37.15 M237.29,35.58 L239.11,36.62 M237.29,36.62 L239.11,35.58 " stroke="#111" stroke-width="0.85" stroke-linecap="round"/>
<circle cx="238.2" cy="36.1" r="0.55" fill="#111"/>
<circle cx="232.8" cy="38.6" r="0.8" fill="#111"/>
<line x1="315.1" y1="135.9" x2="315.1" y2="207.55" stroke="#1a1a1a" stroke-width="1.3"/>
<line x1="314.45" y1="206.9" x2="360.8" y2="206.9" stroke="#1a1a1a" stroke-width="1.3"/>
<path d="M312.3,138.4 H315.1 M312.3,152.2 H315.1 M312.3,165.8 H315.1 M312.3,179.7 H315.1 M312.3,193.3 H315.1 M312.3,206.9 H315.1 M322.1,206.9 V209.5 M332.5,206.9 V209.5 M343.3,206.9 V209.5 M353.8,206.9 V209.5 " stroke="#1a1a1a" stroke-width="1"/>
<text x="309" y="140.8" font-size="6.7" text-anchor="end" fill="#2b2b2b" font-weight="normal">100</text>
<text x="309" y="154.6" font-size="6.7" text-anchor="end" fill="#2b2b2b" font-weight="normal">80</text>
<text x="309" y="168.2" font-size="6.7" text-anchor="end" fill="#2b2b2b" font-weight="normal">60</text>
<text x="309" y="182.1" font-size="6.7" text-anchor="end" fill="#2b2b2b" font-weight="normal">40</text>
<text x="309" y="195.7" font-size="6.7" text-anchor="end" fill="#2b2b2b" font-weight="normal">20</text>
<text x="309" y="209.3" font-size="6.7" text-anchor="end" fill="#2b2b2b" font-weight="normal">0</text>
<line x1="322.1" y1="169.5" x2="322.1" y2="187.3" stroke="#d9507a" stroke-width="1.1"/>
<line x1="320.3" y1="169.5" x2="323.9" y2="169.5" stroke="#d9507a" stroke-width="1.3"/>
<line x1="320.3" y1="187.3" x2="323.9" y2="187.3" stroke="#d9507a" stroke-width="1.3"/>
<rect x="319" y="172.3" width="6.2" height="14.5" fill="#da9283" stroke="#c96f66" stroke-width="0.5"/>
<line x1="319" y1="175.8" x2="325.2" y2="175.8" stroke="#c81e3c" stroke-width="1.5"/>
<circle cx="322.1" cy="169.5" r="0.9" fill="#111"/>
<circle cx="322.1" cy="187.3" r="0.9" fill="#111"/>
<circle cx="320.9" cy="172.9" r="0.9" fill="#111"/>
<circle cx="323.3" cy="186.2" r="0.9" fill="#111"/>
<circle cx="321.1" cy="175.8" r="0.9" fill="#111"/>
<circle cx="323.1" cy="174.05" r="0.9" fill="#111"/>
<circle cx="321.7" cy="181.3" r="0.9" fill="#111"/>
<circle cx="323.2" cy="176.1" r="0.9" fill="#111"/>
<line x1="332.5" y1="158.9" x2="332.5" y2="189.6" stroke="#62b544" stroke-width="1.1"/>
<line x1="330.7" y1="158.9" x2="334.3" y2="158.9" stroke="#62b544" stroke-width="1.3"/>
<line x1="330.7" y1="189.6" x2="334.3" y2="189.6" stroke="#62b544" stroke-width="1.3"/>
<rect x="329.4" y="178.5" width="6.2" height="8.3" fill="#b4d99f" stroke="#8fc46f" stroke-width="0.5"/>
<line x1="329.4" y1="182.2" x2="335.6" y2="182.2" stroke="#4e9e33" stroke-width="1.5"/>
<circle cx="332.5" cy="158.9" r="0.9" fill="#111"/>
<circle cx="332.5" cy="189.6" r="0.9" fill="#111"/>
<circle cx="331.3" cy="179.1" r="0.9" fill="#111"/>
<circle cx="333.7" cy="186.2" r="0.9" fill="#111"/>
<circle cx="331.5" cy="182.2" r="0.9" fill="#111"/>
<circle cx="333.5" cy="180.35" r="0.9" fill="#111"/>
<circle cx="332.1" cy="184.5" r="0.9" fill="#111"/>
<circle cx="333.6" cy="182.5" r="0.9" fill="#111"/>
<line x1="343.3" y1="156.2" x2="343.3" y2="183.2" stroke="#f2a332" stroke-width="1.1"/>
<line x1="341.5" y1="156.2" x2="345.1" y2="156.2" stroke="#f2a332" stroke-width="1.3"/>
<line x1="341.5" y1="183.2" x2="345.1" y2="183.2" stroke="#f2a332" stroke-width="1.3"/>
<rect x="340.2" y="163" width="6.2" height="14.6" fill="#f7cb8f" stroke="#efb261" stroke-width="0.5"/>
<line x1="340.2" y1="168.8" x2="346.4" y2="168.8" stroke="#ef8f14" stroke-width="1.5"/>
<circle cx="343.3" cy="156.2" r="0.9" fill="#111"/>
<circle cx="343.3" cy="183.2" r="0.9" fill="#111"/>
<circle cx="342.1" cy="163.6" r="0.9" fill="#111"/>
<circle cx="344.5" cy="177" r="0.9" fill="#111"/>
<circle cx="342.3" cy="168.8" r="0.9" fill="#111"/>
<circle cx="344.3" cy="165.9" r="0.9" fill="#111"/>
<circle cx="342.9" cy="173.2" r="0.9" fill="#111"/>
<circle cx="344.4" cy="169.1" r="0.9" fill="#111"/>
<line x1="353.8" y1="149.2" x2="353.8" y2="173.9" stroke="#4565ad" stroke-width="1.1"/>
<line x1="352" y1="149.2" x2="355.6" y2="149.2" stroke="#4565ad" stroke-width="1.3"/>
<line x1="352" y1="173.9" x2="355.6" y2="173.9" stroke="#4565ad" stroke-width="1.3"/>
<rect x="350.7" y="149.9" width="6.2" height="21.3" fill="#98a2d0" stroke="#7a88c4" stroke-width="0.5"/>
<line x1="350.7" y1="166.5" x2="356.9" y2="166.5" stroke="#2a4a9a" stroke-width="1.5"/>
<circle cx="353.8" cy="149.2" r="0.9" fill="#111"/>
<circle cx="353.8" cy="173.9" r="0.9" fill="#111"/>
<circle cx="352.6" cy="150.5" r="0.9" fill="#111"/>
<circle cx="355" cy="170.6" r="0.9" fill="#111"/>
<circle cx="352.8" cy="166.5" r="0.9" fill="#111"/>
<circle cx="354.8" cy="158.2" r="0.9" fill="#111"/>
<circle cx="353.4" cy="168.85" r="0.9" fill="#111"/>
<circle cx="354.9" cy="166.8" r="0.9" fill="#111"/>
<text x="314.5" y="220.7" font-size="6.4" text-anchor="end" fill="#2b2b2b" font-weight="normal" textLength="17.6" lengthAdjust="spacingAndGlyphs">HLA-II</text>
<text x="314.5" y="228.6" font-size="6.4" text-anchor="end" fill="#2b2b2b" font-weight="normal" textLength="19.2" lengthAdjust="spacingAndGlyphs">CD161</text>
<text x="322.1" y="219.3" font-size="6.4" text-anchor="middle" fill="#2b2b2b" font-weight="normal" textLength="9.4" lengthAdjust="spacingAndGlyphs">-/lo</text>
<text x="322.1" y="228.6" font-size="6.4" text-anchor="middle" fill="#2b2b2b" font-weight="normal">-</text>
<text x="332.5" y="219.3" font-size="6.4" text-anchor="middle" fill="#2b2b2b" font-weight="normal" textLength="9.4" lengthAdjust="spacingAndGlyphs">-/lo</text>
<text x="332.5" y="228.6" font-size="6.4" text-anchor="middle" fill="#2b2b2b" font-weight="normal">+</text>
<text x="343.3" y="219.3" font-size="6.4" text-anchor="middle" fill="#2b2b2b" font-weight="normal">+</text>
<text x="343.3" y="228.6" font-size="6.4" text-anchor="middle" fill="#2b2b2b" font-weight="normal">-</text>
<text x="353.8" y="219.3" font-size="6.4" text-anchor="middle" fill="#2b2b2b" font-weight="normal">+</text>
<text x="353.8" y="228.6" font-size="6.4" text-anchor="middle" fill="#2b2b2b" font-weight="normal">+</text>
<line x1="332.3" y1="145.3" x2="354.2" y2="145.3" stroke="#2a2a2a" stroke-width="1.15" stroke-linecap="round"/>
<circle cx="332.3" cy="145.3" r="0.85" fill="#111"/><circle cx="354.2" cy="145.3" r="0.85" fill="#111"/>
<path d="M341.43,141.35 L341.43,143.45 M340.52,141.88 L342.33,142.93 M340.52,142.93 L342.33,141.88 " stroke="#111" stroke-width="0.85" stroke-linecap="round"/>
<circle cx="341.43" cy="142.4" r="0.55" fill="#111"/>
<path d="M344.97,141.35 L344.97,143.45 M344.07,141.88 L345.88,142.93 M344.07,142.93 L345.88,141.88 " stroke="#111" stroke-width="0.85" stroke-linecap="round"/>
<circle cx="344.97" cy="142.4" r="0.55" fill="#111"/>
<line x1="332.3" y1="150.8" x2="343.8" y2="150.8" stroke="#2a2a2a" stroke-width="1.15" stroke-linecap="round"/>
<circle cx="332.3" cy="150.8" r="0.85" fill="#111"/><circle cx="343.8" cy="150.8" r="0.85" fill="#111"/>
<path d="M338,146.85 L338,148.95 M337.09,147.38 L338.91,148.43 M337.09,148.43 L338.91,147.38 " stroke="#111" stroke-width="0.85" stroke-linecap="round"/>
<circle cx="338" cy="147.9" r="0.55" fill="#111"/>
<line x1="381.9" y1="138.8" x2="381.9" y2="207.55" stroke="#1a1a1a" stroke-width="1.3"/>
<line x1="381.25" y1="206.9" x2="427.3" y2="206.9" stroke="#1a1a1a" stroke-width="1.3"/>
<path d="M388.9,206.9 V209.5 M399.4,206.9 V209.5 M409.7,206.9 V209.5 M420.5,206.9 V209.5 " stroke="#1a1a1a" stroke-width="1"/>
<line x1="388.9" y1="152.4" x2="388.9" y2="194.2" stroke="#d9507a" stroke-width="1.1"/>
<line x1="387.1" y1="152.4" x2="390.7" y2="152.4" stroke="#d9507a" stroke-width="1.3"/>
<line x1="387.1" y1="194.2" x2="390.7" y2="194.2" stroke="#d9507a" stroke-width="1.3"/>
<rect x="385.8" y="157" width="6.2" height="31.8" fill="#da9283" stroke="#c96f66" stroke-width="0.5"/>
<line x1="385.8" y1="173.1" x2="392" y2="173.1" stroke="#c81e3c" stroke-width="1.5"/>
<circle cx="388.9" cy="152.4" r="0.9" fill="#111"/>
<circle cx="388.9" cy="194.2" r="0.9" fill="#111"/>
<circle cx="387.7" cy="157.6" r="0.9" fill="#111"/>
<circle cx="390.1" cy="188.2" r="0.9" fill="#111"/>
<circle cx="387.9" cy="173.1" r="0.9" fill="#111"/>
<circle cx="389.9" cy="165.05" r="0.9" fill="#111"/>
<circle cx="388.5" cy="180.95" r="0.9" fill="#111"/>
<circle cx="390" cy="173.4" r="0.9" fill="#111"/>
<line x1="399.4" y1="165" x2="399.4" y2="194.7" stroke="#62b544" stroke-width="1.1"/>
<line x1="397.6" y1="165" x2="401.2" y2="165" stroke="#62b544" stroke-width="1.3"/>
<line x1="397.6" y1="194.7" x2="401.2" y2="194.7" stroke="#62b544" stroke-width="1.3"/>
<rect x="396.3" y="178.8" width="6.2" height="15.9" fill="#b4d99f" stroke="#8fc46f" stroke-width="0.5"/>
<line x1="396.3" y1="180.7" x2="402.5" y2="180.7" stroke="#4e9e33" stroke-width="1.5"/>
<circle cx="399.4" cy="165" r="0.9" fill="#111"/>
<circle cx="399.4" cy="194.7" r="0.9" fill="#111"/>
<circle cx="398.2" cy="179.4" r="0.9" fill="#111"/>
<circle cx="400.6" cy="194.1" r="0.9" fill="#111"/>
<circle cx="398.4" cy="180.7" r="0.9" fill="#111"/>
<circle cx="400.4" cy="179.75" r="0.9" fill="#111"/>
<circle cx="399" cy="187.7" r="0.9" fill="#111"/>
<circle cx="400.5" cy="181" r="0.9" fill="#111"/>
<line x1="409.7" y1="145.4" x2="409.7" y2="188.9" stroke="#f2a332" stroke-width="1.1"/>
<line x1="407.9" y1="145.4" x2="411.5" y2="145.4" stroke="#f2a332" stroke-width="1.3"/>
<line x1="407.9" y1="188.9" x2="411.5" y2="188.9" stroke="#f2a332" stroke-width="1.3"/>
<rect x="406.6" y="150.1" width="6.2" height="31.2" fill="#f7cb8f" stroke="#efb261" stroke-width="0.5"/>
<line x1="406.6" y1="170.4" x2="412.8" y2="170.4" stroke="#ef8f14" stroke-width="1.5"/>
<circle cx="409.7" cy="145.4" r="0.9" fill="#111"/>
<circle cx="409.7" cy="188.9" r="0.9" fill="#111"/>
<circle cx="408.5" cy="150.7" r="0.9" fill="#111"/>
<circle cx="410.9" cy="180.7" r="0.9" fill="#111"/>
<circle cx="408.7" cy="170.4" r="0.9" fill="#111"/>
<circle cx="410.7" cy="160.25" r="0.9" fill="#111"/>
<circle cx="409.3" cy="175.85" r="0.9" fill="#111"/>
<circle cx="410.8" cy="170.7" r="0.9" fill="#111"/>
<line x1="420.5" y1="145.1" x2="420.5" y2="186.1" stroke="#4565ad" stroke-width="1.1"/>
<line x1="418.7" y1="145.1" x2="422.3" y2="145.1" stroke="#4565ad" stroke-width="1.3"/>
<line x1="418.7" y1="186.1" x2="422.3" y2="186.1" stroke="#4565ad" stroke-width="1.3"/>
<rect x="417.4" y="151.8" width="6.2" height="32.9" fill="#98a2d0" stroke="#7a88c4" stroke-width="0.5"/>
<line x1="417.4" y1="166.4" x2="423.6" y2="166.4" stroke="#2a4a9a" stroke-width="1.5"/>
<circle cx="420.5" cy="145.1" r="0.9" fill="#111"/>
<circle cx="420.5" cy="186.1" r="0.9" fill="#111"/>
<circle cx="419.3" cy="152.4" r="0.9" fill="#111"/>
<circle cx="421.7" cy="184.1" r="0.9" fill="#111"/>
<circle cx="419.5" cy="166.4" r="0.9" fill="#111"/>
<circle cx="421.5" cy="159.1" r="0.9" fill="#111"/>
<circle cx="420.1" cy="175.55" r="0.9" fill="#111"/>
<circle cx="421.6" cy="166.7" r="0.9" fill="#111"/>
<text x="388.9" y="219.3" font-size="6.4" text-anchor="middle" fill="#2b2b2b" font-weight="normal" textLength="9.4" lengthAdjust="spacingAndGlyphs">-/lo</text>
<text x="388.9" y="228.6" font-size="6.4" text-anchor="middle" fill="#2b2b2b" font-weight="normal">-</text>
<text x="399.4" y="219.3" font-size="6.4" text-anchor="middle" fill="#2b2b2b" font-weight="normal" textLength="9.4" lengthAdjust="spacingAndGlyphs">-/lo</text>
<text x="399.4" y="228.6" font-size="6.4" text-anchor="middle" fill="#2b2b2b" font-weight="normal">+</text>
<text x="409.7" y="219.3" font-size="6.4" text-anchor="middle" fill="#2b2b2b" font-weight="normal">+</text>
<text x="409.7" y="228.6" font-size="6.4" text-anchor="middle" fill="#2b2b2b" font-weight="normal">-</text>
<text x="420.5" y="219.3" font-size="6.4" text-anchor="middle" fill="#2b2b2b" font-weight="normal">+</text>
<text x="420.5" y="228.6" font-size="6.4" text-anchor="middle" fill="#2b2b2b" font-weight="normal">+</text>
<line x1="398.5" y1="137.8" x2="421" y2="137.8" stroke="#2a2a2a" stroke-width="1.15" stroke-linecap="round"/>
<circle cx="398.5" cy="137.8" r="0.85" fill="#111"/><circle cx="421" cy="137.8" r="0.85" fill="#111"/>
<path d="M409.8,133.85 L409.8,135.95 M408.89,134.38 L410.71,135.43 M408.89,135.43 L410.71,134.38 " stroke="#111" stroke-width="0.85" stroke-linecap="round"/>
<circle cx="409.8" cy="134.9" r="0.55" fill="#111"/>
<line x1="398.5" y1="142.5" x2="409.8" y2="142.5" stroke="#2a2a2a" stroke-width="1.15" stroke-linecap="round"/>
<circle cx="398.5" cy="142.5" r="0.85" fill="#111"/><circle cx="409.8" cy="142.5" r="0.85" fill="#111"/>
<path d="M404.2,138.55 L404.2,140.65 M403.29,139.07 L405.11,140.12 M403.29,140.12 L405.11,139.07 " stroke="#111" stroke-width="0.85" stroke-linecap="round"/>
<circle cx="404.2" cy="139.6" r="0.55" fill="#111"/>
<line x1="454.9" y1="138.1" x2="454.9" y2="207.55" stroke="#1a1a1a" stroke-width="1.3"/>
<line x1="454.25" y1="206.9" x2="500.2" y2="206.9" stroke="#1a1a1a" stroke-width="1.3"/>
<path d="M452.1,146.2 H454.9 M452.1,158.3 H454.9 M452.1,170.4 H454.9 M452.1,182.6 H454.9 M452.1,194.7 H454.9 M452.1,206.9 H454.9 M461.7,206.9 V209.5 M472.5,206.9 V209.5 M483,206.9 V209.5 M493.8,206.9 V209.5 " stroke="#1a1a1a" stroke-width="1"/>
<text x="448.8" y="148.6" font-size="6.7" text-anchor="end" fill="#2b2b2b" font-weight="normal">64</text>
<text x="448.8" y="160.7" font-size="6.7" text-anchor="end" fill="#2b2b2b" font-weight="normal">32</text>
<text x="448.8" y="172.8" font-size="6.7" text-anchor="end" fill="#2b2b2b" font-weight="normal">16</text>
<text x="448.8" y="185" font-size="6.7" text-anchor="end" fill="#2b2b2b" font-weight="normal">8</text>
<text x="448.8" y="197.1" font-size="6.7" text-anchor="end" fill="#2b2b2b" font-weight="normal">4</text>
<text x="448.8" y="209.3" font-size="6.7" text-anchor="end" fill="#2b2b2b" font-weight="normal">2</text>
<line x1="461.7" y1="153.7" x2="461.7" y2="195.5" stroke="#d9507a" stroke-width="1.1"/>
<line x1="459.9" y1="153.7" x2="463.5" y2="153.7" stroke="#d9507a" stroke-width="1.3"/>
<line x1="459.9" y1="195.5" x2="463.5" y2="195.5" stroke="#d9507a" stroke-width="1.3"/>
<rect x="458.6" y="169.4" width="6.2" height="22.1" fill="#da9283" stroke="#c96f66" stroke-width="0.5"/>
<line x1="458.6" y1="175.8" x2="464.8" y2="175.8" stroke="#c81e3c" stroke-width="1.5"/>
<circle cx="461.7" cy="153.7" r="0.9" fill="#111"/>
<circle cx="461.7" cy="195.5" r="0.9" fill="#111"/>
<circle cx="460.5" cy="170" r="0.9" fill="#111"/>
<circle cx="462.9" cy="190.9" r="0.9" fill="#111"/>
<circle cx="460.7" cy="175.8" r="0.9" fill="#111"/>
<circle cx="462.7" cy="172.6" r="0.9" fill="#111"/>
<circle cx="461.3" cy="183.65" r="0.9" fill="#111"/>
<circle cx="462.8" cy="176.1" r="0.9" fill="#111"/>
<line x1="472.5" y1="142.6" x2="472.5" y2="174.2" stroke="#62b544" stroke-width="1.1"/>
<line x1="470.7" y1="142.6" x2="474.3" y2="142.6" stroke="#62b544" stroke-width="1.3"/>
<line x1="470.7" y1="174.2" x2="474.3" y2="174.2" stroke="#62b544" stroke-width="1.3"/>
<rect x="469.4" y="145.9" width="6.2" height="19.4" fill="#b4d99f" stroke="#8fc46f" stroke-width="0.5"/>
<line x1="469.4" y1="151" x2="475.6" y2="151" stroke="#4e9e33" stroke-width="1.5"/>
<circle cx="472.5" cy="142.6" r="0.9" fill="#111"/>
<circle cx="472.5" cy="174.2" r="0.9" fill="#111"/>
<circle cx="471.3" cy="146.5" r="0.9" fill="#111"/>
<circle cx="473.7" cy="164.7" r="0.9" fill="#111"/>
<circle cx="471.5" cy="151" r="0.9" fill="#111"/>
<circle cx="473.5" cy="148.45" r="0.9" fill="#111"/>
<circle cx="472.1" cy="158.15" r="0.9" fill="#111"/>
<circle cx="473.6" cy="151.3" r="0.9" fill="#111"/>
<line x1="483" y1="151.6" x2="483" y2="191.5" stroke="#f2a332" stroke-width="1.1"/>
<line x1="481.2" y1="151.6" x2="484.8" y2="151.6" stroke="#f2a332" stroke-width="1.3"/>
<line x1="481.2" y1="191.5" x2="484.8" y2="191.5" stroke="#f2a332" stroke-width="1.3"/>
<rect x="479.9" y="155.9" width="6.2" height="32.1" fill="#f7cb8f" stroke="#efb261" stroke-width="0.5"/>
<line x1="479.9" y1="175.8" x2="486.1" y2="175.8" stroke="#ef8f14" stroke-width="1.5"/>
<circle cx="483" cy="151.6" r="0.9" fill="#111"/>
<circle cx="483" cy="191.5" r="0.9" fill="#111"/>
<circle cx="481.8" cy="156.5" r="0.9" fill="#111"/>
<circle cx="484.2" cy="187.4" r="0.9" fill="#111"/>
<circle cx="482" cy="175.8" r="0.9" fill="#111"/>
<circle cx="484" cy="165.85" r="0.9" fill="#111"/>
<circle cx="482.6" cy="181.9" r="0.9" fill="#111"/>
<circle cx="484.1" cy="176.1" r="0.9" fill="#111"/>
<line x1="493.8" y1="142.1" x2="493.8" y2="184.7" stroke="#4565ad" stroke-width="1.1"/>
<line x1="492" y1="142.1" x2="495.6" y2="142.1" stroke="#4565ad" stroke-width="1.3"/>
<line x1="492" y1="184.7" x2="495.6" y2="184.7" stroke="#4565ad" stroke-width="1.3"/>
<rect x="490.7" y="147" width="6.2" height="14.8" fill="#98a2d0" stroke="#7a88c4" stroke-width="0.5"/>
<line x1="490.7" y1="150.2" x2="496.9" y2="150.2" stroke="#2a4a9a" stroke-width="1.5"/>
<circle cx="493.8" cy="142.1" r="0.9" fill="#111"/>
<circle cx="493.8" cy="184.7" r="0.9" fill="#111"/>
<circle cx="492.6" cy="147.6" r="0.9" fill="#111"/>
<circle cx="495" cy="161.2" r="0.9" fill="#111"/>
<circle cx="492.8" cy="150.2" r="0.9" fill="#111"/>
<circle cx="494.8" cy="148.6" r="0.9" fill="#111"/>
<circle cx="493.4" cy="156" r="0.9" fill="#111"/>
<circle cx="494.9" cy="150.5" r="0.9" fill="#111"/>
<text x="461.7" y="219.3" font-size="6.4" text-anchor="middle" fill="#2b2b2b" font-weight="normal" textLength="9.4" lengthAdjust="spacingAndGlyphs">-/lo</text>
<text x="461.7" y="228.6" font-size="6.4" text-anchor="middle" fill="#2b2b2b" font-weight="normal">-</text>
<text x="472.5" y="219.3" font-size="6.4" text-anchor="middle" fill="#2b2b2b" font-weight="normal" textLength="9.4" lengthAdjust="spacingAndGlyphs">-/lo</text>
<text x="472.5" y="228.6" font-size="6.4" text-anchor="middle" fill="#2b2b2b" font-weight="normal">+</text>
<text x="483" y="219.3" font-size="6.4" text-anchor="middle" fill="#2b2b2b" font-weight="normal">+</text>
<text x="483" y="228.6" font-size="6.4" text-anchor="middle" fill="#2b2b2b" font-weight="normal">-</text>
<text x="493.8" y="219.3" font-size="6.4" text-anchor="middle" fill="#2b2b2b" font-weight="normal">+</text>
<text x="493.8" y="228.6" font-size="6.4" text-anchor="middle" fill="#2b2b2b" font-weight="normal">+</text>
<line x1="461.7" y1="134" x2="492.8" y2="134" stroke="#2a2a2a" stroke-width="1.15" stroke-linecap="round"/>
<circle cx="461.7" cy="134" r="0.85" fill="#111"/><circle cx="492.8" cy="134" r="0.85" fill="#111"/>
<path d="M475.53,130.05 L475.53,132.15 M474.62,130.57 L476.43,131.62 M474.62,131.62 L476.43,130.57 " stroke="#111" stroke-width="0.85" stroke-linecap="round"/>
<circle cx="475.53" cy="131.1" r="0.55" fill="#111"/>
<path d="M479.07,130.05 L479.07,132.15 M478.17,130.57 L479.98,131.62 M478.17,131.62 L479.98,130.57 " stroke="#111" stroke-width="0.85" stroke-linecap="round"/>
<circle cx="479.07" cy="131.1" r="0.55" fill="#111"/>
<line x1="461.7" y1="139.4" x2="472.5" y2="139.4" stroke="#2a2a2a" stroke-width="1.15" stroke-linecap="round"/>
<circle cx="461.7" cy="139.4" r="0.85" fill="#111"/><circle cx="472.5" cy="139.4" r="0.85" fill="#111"/>
<path d="M467.1,135.45 L467.1,137.55 M466.19,135.97 L468.01,137.03 M466.19,137.03 L468.01,135.97 " stroke="#111" stroke-width="0.85" stroke-linecap="round"/>
<circle cx="467.1" cy="136.5" r="0.55" fill="#111"/>
<line x1="483" y1="139.4" x2="493.8" y2="139.4" stroke="#2a2a2a" stroke-width="1.15" stroke-linecap="round"/>
<circle cx="483" cy="139.4" r="0.85" fill="#111"/><circle cx="493.8" cy="139.4" r="0.85" fill="#111"/>
<path d="M488.4,135.45 L488.4,137.55 M487.49,135.97 L489.31,137.03 M487.49,137.03 L489.31,135.97 " stroke="#111" stroke-width="0.85" stroke-linecap="round"/>
<circle cx="488.4" cy="136.5" r="0.55" fill="#111"/>
<line x1="44.2" y1="256.2" x2="44.2" y2="328.55" stroke="#1a1a1a" stroke-width="1.3"/>
<line x1="43.55" y1="327.9" x2="94.2" y2="327.9" stroke="#1a1a1a" stroke-width="1.3"/>
<path d="M41.4,259.2 H44.2 M41.4,282.3 H44.2 M41.4,305.1 H44.2 M41.4,327.9 H44.2 M51.3,327.9 V330.5 M63.2,327.9 V330.5 M75.1,327.9 V330.5 M86.9,327.9 V330.5 " stroke="#1a1a1a" stroke-width="1"/>
<text x="38.1" y="261.6" font-size="6.7" text-anchor="end" fill="#2b2b2b" font-weight="normal">1500</text>
<text x="38.1" y="284.7" font-size="6.7" text-anchor="end" fill="#2b2b2b" font-weight="normal">1000</text>
<text x="38.1" y="307.5" font-size="6.7" text-anchor="end" fill="#2b2b2b" font-weight="normal">500</text>
<text x="38.1" y="330.3" font-size="6.7" text-anchor="end" fill="#2b2b2b" font-weight="normal">0</text>
<line x1="51.3" y1="292.5" x2="51.3" y2="316.6" stroke="#d9507a" stroke-width="1.1"/>
<line x1="49.5" y1="292.5" x2="53.1" y2="292.5" stroke="#d9507a" stroke-width="1.3"/>
<line x1="49.5" y1="316.6" x2="53.1" y2="316.6" stroke="#d9507a" stroke-width="1.3"/>
<rect x="48.2" y="306.9" width="6.2" height="8.1" fill="#da9283" stroke="#c96f66" stroke-width="0.5"/>
<line x1="48.2" y1="310.1" x2="54.4" y2="310.1" stroke="#c81e3c" stroke-width="1.5"/>
<circle cx="51.3" cy="292.5" r="0.9" fill="#111"/>
<circle cx="51.3" cy="316.6" r="0.9" fill="#111"/>
<circle cx="50.1" cy="307.5" r="0.9" fill="#111"/>
<circle cx="52.5" cy="314.4" r="0.9" fill="#111"/>
<circle cx="50.3" cy="310.1" r="0.9" fill="#111"/>
<circle cx="52.3" cy="308.5" r="0.9" fill="#111"/>
<circle cx="50.9" cy="312.55" r="0.9" fill="#111"/>
<circle cx="52.4" cy="310.4" r="0.9" fill="#111"/>
<line x1="63.2" y1="284.6" x2="63.2" y2="314.6" stroke="#62b544" stroke-width="1.1"/>
<line x1="61.4" y1="284.6" x2="65" y2="284.6" stroke="#62b544" stroke-width="1.3"/>
<line x1="61.4" y1="314.6" x2="65" y2="314.6" stroke="#62b544" stroke-width="1.3"/>
<rect x="60.1" y="290" width="6.2" height="18.3" fill="#b4d99f" stroke="#8fc46f" stroke-width="0.5"/>
<line x1="60.1" y1="306.3" x2="66.3" y2="306.3" stroke="#4e9e33" stroke-width="1.5"/>
<circle cx="63.2" cy="284.6" r="0.9" fill="#111"/>
<circle cx="63.2" cy="314.6" r="0.9" fill="#111"/>
<circle cx="62" cy="290.6" r="0.9" fill="#111"/>
<circle cx="64.4" cy="307.7" r="0.9" fill="#111"/>
<circle cx="62.2" cy="306.3" r="0.9" fill="#111"/>
<circle cx="64.2" cy="298.15" r="0.9" fill="#111"/>
<circle cx="62.8" cy="307.3" r="0.9" fill="#111"/>
<circle cx="64.3" cy="306.6" r="0.9" fill="#111"/>
<line x1="75.1" y1="287.7" x2="75.1" y2="313" stroke="#f2a332" stroke-width="1.1"/>
<line x1="73.3" y1="287.7" x2="76.9" y2="287.7" stroke="#f2a332" stroke-width="1.3"/>
<line x1="73.3" y1="313" x2="76.9" y2="313" stroke="#f2a332" stroke-width="1.3"/>
<rect x="72" y="296.7" width="6.2" height="14.5" fill="#f7cb8f" stroke="#efb261" stroke-width="0.5"/>
<line x1="72" y1="303.8" x2="78.2" y2="303.8" stroke="#ef8f14" stroke-width="1.5"/>
<circle cx="75.1" cy="287.7" r="0.9" fill="#111"/>
<circle cx="75.1" cy="313" r="0.9" fill="#111"/>
<circle cx="73.9" cy="297.3" r="0.9" fill="#111"/>
<circle cx="76.3" cy="310.6" r="0.9" fill="#111"/>
<circle cx="74.1" cy="303.8" r="0.9" fill="#111"/>
<circle cx="76.1" cy="300.25" r="0.9" fill="#111"/>
<circle cx="74.7" cy="307.5" r="0.9" fill="#111"/>
<circle cx="76.2" cy="304.1" r="0.9" fill="#111"/>
<line x1="86.9" y1="276.9" x2="86.9" y2="310.2" stroke="#4565ad" stroke-width="1.1"/>
<line x1="85.1" y1="276.9" x2="88.7" y2="276.9" stroke="#4565ad" stroke-width="1.3"/>
<line x1="85.1" y1="310.2" x2="88.7" y2="310.2" stroke="#4565ad" stroke-width="1.3"/>
<rect x="83.8" y="280" width="6.2" height="23.5" fill="#98a2d0" stroke="#7a88c4" stroke-width="0.5"/>
<line x1="83.8" y1="292" x2="90" y2="292" stroke="#2a4a9a" stroke-width="1.5"/>
<circle cx="86.9" cy="276.9" r="0.9" fill="#111"/>
<circle cx="86.9" cy="310.2" r="0.9" fill="#111"/>
<circle cx="85.7" cy="280.6" r="0.9" fill="#111"/>
<circle cx="88.1" cy="302.9" r="0.9" fill="#111"/>
<circle cx="85.9" cy="292" r="0.9" fill="#111"/>
<circle cx="87.9" cy="286" r="0.9" fill="#111"/>
<circle cx="86.5" cy="297.75" r="0.9" fill="#111"/>
<circle cx="88" cy="292.3" r="0.9" fill="#111"/>
<text x="40.6" y="341.5" font-size="6.4" text-anchor="end" fill="#2b2b2b" font-weight="normal" textLength="17.6" lengthAdjust="spacingAndGlyphs">HLA-II</text>
<text x="40.6" y="348.9" font-size="6.4" text-anchor="end" fill="#2b2b2b" font-weight="normal" textLength="19.2" lengthAdjust="spacingAndGlyphs">CD161</text>
<text x="51.3" y="339.8" font-size="6.4" text-anchor="middle" fill="#2b2b2b" font-weight="normal" textLength="9.4" lengthAdjust="spacingAndGlyphs">-/lo</text>
<text x="51.3" y="350.1" font-size="6.4" text-anchor="middle" fill="#2b2b2b" font-weight="normal">-</text>
<text x="63.2" y="339.8" font-size="6.4" text-anchor="middle" fill="#2b2b2b" font-weight="normal" textLength="9.4" lengthAdjust="spacingAndGlyphs">-/lo</text>
<text x="63.2" y="350.1" font-size="6.4" text-anchor="middle" fill="#2b2b2b" font-weight="normal">+</text>
<text x="75.1" y="339.8" font-size="6.4" text-anchor="middle" fill="#2b2b2b" font-weight="normal">+</text>
<text x="75.1" y="350.1" font-size="6.4" text-anchor="middle" fill="#2b2b2b" font-weight="normal">-</text>
<text x="86.9" y="339.8" font-size="6.4" text-anchor="middle" fill="#2b2b2b" font-weight="normal">+</text>
<text x="86.9" y="350.1" font-size="6.4" text-anchor="middle" fill="#2b2b2b" font-weight="normal">+</text>
<line x1="50.2" y1="270.1" x2="86.2" y2="270.1" stroke="#2a2a2a" stroke-width="1.15" stroke-linecap="round"/>
<circle cx="50.2" cy="270.1" r="0.85" fill="#111"/><circle cx="86.2" cy="270.1" r="0.85" fill="#111"/>
<path d="M62.88,265.15 L62.88,267.25 M61.97,265.68 L63.78,266.73 M61.97,266.73 L63.78,265.68 " stroke="#111" stroke-width="0.85" stroke-linecap="round"/>
<circle cx="62.88" cy="266.2" r="0.55" fill="#111"/>
<path d="M66.42,265.15 L66.42,267.25 M65.52,265.68 L67.33,266.73 M65.52,266.73 L67.33,265.68 " stroke="#111" stroke-width="0.85" stroke-linecap="round"/>
<circle cx="66.42" cy="266.2" r="0.55" fill="#111"/>
<path d="M69.98,265.15 L69.98,267.25 M69.07,265.68 L70.88,266.73 M69.07,266.73 L70.88,265.68 " stroke="#111" stroke-width="0.85" stroke-linecap="round"/>
<circle cx="69.98" cy="266.2" r="0.55" fill="#111"/>
<path d="M73.53,265.15 L73.53,267.25 M72.62,265.68 L74.43,266.73 M72.62,266.73 L74.43,265.68 " stroke="#111" stroke-width="0.85" stroke-linecap="round"/>
<circle cx="73.53" cy="266.2" r="0.55" fill="#111"/>
<line x1="127.5" y1="256.9" x2="127.5" y2="328.15" stroke="#1a1a1a" stroke-width="1.3"/>
<line x1="126.85" y1="327.5" x2="177.5" y2="327.5" stroke="#1a1a1a" stroke-width="1.3"/>
<path d="M124.7,258.9 H127.5 M124.7,293.1 H127.5 M124.7,327.3 H127.5 M134.3,327.5 V330.1 M146.3,327.5 V330.1 M158.4,327.5 V330.1 M170.2,327.5 V330.1 " stroke="#1a1a1a" stroke-width="1"/>
<text x="121.4" y="261.3" font-size="6.7" text-anchor="end" fill="#2b2b2b" font-weight="normal">10000</text>
<text x="121.4" y="295.5" font-size="6.7" text-anchor="end" fill="#2b2b2b" font-weight="normal">5000</text>
<text x="121.4" y="329.7" font-size="6.7" text-anchor="end" fill="#2b2b2b" font-weight="normal">0</text>
<line x1="134.3" y1="285.6" x2="134.3" y2="317.5" stroke="#d9507a" stroke-width="1.1"/>
<line x1="132.5" y1="285.6" x2="136.1" y2="285.6" stroke="#d9507a" stroke-width="1.3"/>
<line x1="132.5" y1="317.5" x2="136.1" y2="317.5" stroke="#d9507a" stroke-width="1.3"/>
<rect x="131.2" y="297" width="6.2" height="16.3" fill="#da9283" stroke="#c96f66" stroke-width="0.5"/>
<line x1="131.2" y1="305.8" x2="137.4" y2="305.8" stroke="#c81e3c" stroke-width="1.5"/>
<circle cx="134.3" cy="285.6" r="0.9" fill="#111"/>
<circle cx="134.3" cy="317.5" r="0.9" fill="#111"/>
<circle cx="133.1" cy="297.6" r="0.9" fill="#111"/>
<circle cx="135.5" cy="312.7" r="0.9" fill="#111"/>
<circle cx="133.3" cy="305.8" r="0.9" fill="#111"/>
<circle cx="135.3" cy="301.4" r="0.9" fill="#111"/>
<circle cx="133.9" cy="309.55" r="0.9" fill="#111"/>
<circle cx="135.4" cy="306.1" r="0.9" fill="#111"/>
<line x1="146.3" y1="284.6" x2="146.3" y2="316.5" stroke="#62b544" stroke-width="1.1"/>
<line x1="144.5" y1="284.6" x2="148.1" y2="284.6" stroke="#62b544" stroke-width="1.3"/>
<line x1="144.5" y1="316.5" x2="148.1" y2="316.5" stroke="#62b544" stroke-width="1.3"/>
<rect x="143.2" y="293.7" width="6.2" height="18" fill="#b4d99f" stroke="#8fc46f" stroke-width="0.5"/>
<line x1="143.2" y1="306.8" x2="149.4" y2="306.8" stroke="#4e9e33" stroke-width="1.5"/>
<circle cx="146.3" cy="284.6" r="0.9" fill="#111"/>
<circle cx="146.3" cy="316.5" r="0.9" fill="#111"/>
<circle cx="145.1" cy="294.3" r="0.9" fill="#111"/>
<circle cx="147.5" cy="311.1" r="0.9" fill="#111"/>
<circle cx="145.3" cy="306.8" r="0.9" fill="#111"/>
<circle cx="147.3" cy="300.25" r="0.9" fill="#111"/>
<circle cx="145.9" cy="309.25" r="0.9" fill="#111"/>
<circle cx="147.4" cy="307.1" r="0.9" fill="#111"/>
<line x1="158.4" y1="266.7" x2="158.4" y2="315.2" stroke="#f2a332" stroke-width="1.1"/>
<line x1="156.6" y1="266.7" x2="160.2" y2="266.7" stroke="#f2a332" stroke-width="1.3"/>
<line x1="156.6" y1="315.2" x2="160.2" y2="315.2" stroke="#f2a332" stroke-width="1.3"/>
<rect x="155.3" y="288.2" width="6.2" height="23.7" fill="#f7cb8f" stroke="#efb261" stroke-width="0.5"/>
<line x1="155.3" y1="297.5" x2="161.5" y2="297.5" stroke="#ef8f14" stroke-width="1.5"/>
<circle cx="158.4" cy="266.7" r="0.9" fill="#111"/>
<circle cx="158.4" cy="315.2" r="0.9" fill="#111"/>
<circle cx="157.2" cy="288.8" r="0.9" fill="#111"/>
<circle cx="159.6" cy="311.3" r="0.9" fill="#111"/>
<circle cx="157.4" cy="297.5" r="0.9" fill="#111"/>
<circle cx="159.4" cy="292.85" r="0.9" fill="#111"/>
<circle cx="158" cy="304.7" r="0.9" fill="#111"/>
<circle cx="159.5" cy="297.8" r="0.9" fill="#111"/>
<line x1="170.2" y1="276.3" x2="170.2" y2="314.2" stroke="#4565ad" stroke-width="1.1"/>
<line x1="168.4" y1="276.3" x2="172" y2="276.3" stroke="#4565ad" stroke-width="1.3"/>
<line x1="168.4" y1="314.2" x2="172" y2="314.2" stroke="#4565ad" stroke-width="1.3"/>
<rect x="167.1" y="284.7" width="6.2" height="26.6" fill="#98a2d0" stroke="#7a88c4" stroke-width="0.5"/>
<line x1="167.1" y1="294.9" x2="173.3" y2="294.9" stroke="#2a4a9a" stroke-width="1.5"/>
<circle cx="170.2" cy="276.3" r="0.9" fill="#111"/>
<circle cx="170.2" cy="314.2" r="0.9" fill="#111"/>
<circle cx="169" cy="285.3" r="0.9" fill="#111"/>
<circle cx="171.4" cy="310.7" r="0.9" fill="#111"/>
<circle cx="169.2" cy="294.9" r="0.9" fill="#111"/>
<circle cx="171.2" cy="289.8" r="0.9" fill="#111"/>
<circle cx="169.8" cy="303.1" r="0.9" fill="#111"/>
<circle cx="171.3" cy="295.2" r="0.9" fill="#111"/>
<text x="134.3" y="339.8" font-size="6.4" text-anchor="middle" fill="#2b2b2b" font-weight="normal" textLength="9.4" lengthAdjust="spacingAndGlyphs">-/lo</text>
<text x="134.3" y="350.1" font-size="6.4" text-anchor="middle" fill="#2b2b2b" font-weight="normal">-</text>
<text x="146.3" y="339.8" font-size="6.4" text-anchor="middle" fill="#2b2b2b" font-weight="normal" textLength="9.4" lengthAdjust="spacingAndGlyphs">-/lo</text>
<text x="146.3" y="350.1" font-size="6.4" text-anchor="middle" fill="#2b2b2b" font-weight="normal">+</text>
<text x="158.4" y="339.8" font-size="6.4" text-anchor="middle" fill="#2b2b2b" font-weight="normal">+</text>
<text x="158.4" y="350.1" font-size="6.4" text-anchor="middle" fill="#2b2b2b" font-weight="normal">-</text>
<text x="170.2" y="339.8" font-size="6.4" text-anchor="middle" fill="#2b2b2b" font-weight="normal">+</text>
<text x="170.2" y="350.1" font-size="6.4" text-anchor="middle" fill="#2b2b2b" font-weight="normal">+</text>
<line x1="132.9" y1="257.9" x2="172.6" y2="257.9" stroke="#2a2a2a" stroke-width="1.15" stroke-linecap="round"/>
<circle cx="132.9" cy="257.9" r="0.85" fill="#111"/><circle cx="172.6" cy="257.9" r="0.85" fill="#111"/>
<path d="M150.72,253.95 L150.72,256.05 M149.82,254.47 L151.63,255.52 M149.82,255.52 L151.63,254.47 " stroke="#111" stroke-width="0.85" stroke-linecap="round"/>
<circle cx="150.72" cy="255" r="0.55" fill="#111"/>
<path d="M154.28,253.95 L154.28,256.05 M153.37,254.47 L155.18,255.52 M153.37,255.52 L155.18,254.47 " stroke="#111" stroke-width="0.85" stroke-linecap="round"/>
<circle cx="154.28" cy="255" r="0.55" fill="#111"/>
<line x1="134.3" y1="263.9" x2="158.7" y2="263.9" stroke="#2a2a2a" stroke-width="1.15" stroke-linecap="round"/>
<circle cx="134.3" cy="263.9" r="0.85" fill="#111"/><circle cx="158.7" cy="263.9" r="0.85" fill="#111"/>
<path d="M146.5,259.95 L146.5,262.05 M145.59,260.48 L147.41,261.52 M145.59,261.52 L147.41,260.48 " stroke="#111" stroke-width="0.85" stroke-linecap="round"/>
<circle cx="146.5" cy="261" r="0.55" fill="#111"/>
<line x1="211" y1="259.4" x2="211" y2="328.15" stroke="#1a1a1a" stroke-width="1.3"/>
<line x1="210.35" y1="327.5" x2="259.8" y2="327.5" stroke="#1a1a1a" stroke-width="1.3"/>
<path d="M208.2,267 H211 M208.2,282.3 H211 M208.2,297.7 H211 M208.2,312.6 H211 M208.2,327.3 H211 M218.4,327.5 V330.1 M230.5,327.5 V330.1 M241.9,327.5 V330.1 M254.3,327.5 V330.1 " stroke="#1a1a1a" stroke-width="1"/>
<text x="204.9" y="269.4" font-size="6.7" text-anchor="end" fill="#2b2b2b" font-weight="normal">32768</text>
<text x="204.9" y="284.7" font-size="6.7" text-anchor="end" fill="#2b2b2b" font-weight="normal">8192</text>
<text x="204.9" y="300.1" font-size="6.7" text-anchor="end" fill="#2b2b2b" font-weight="normal">2048</text>
<text x="204.9" y="315" font-size="6.7" text-anchor="end" fill="#2b2b2b" font-weight="normal">512</text>
<text x="204.9" y="329.7" font-size="6.7" text-anchor="end" fill="#2b2b2b" font-weight="normal">128</text>
<line x1="218.4" y1="289.5" x2="218.4" y2="325.3" stroke="#d9507a" stroke-width="1.1"/>
<line x1="216.6" y1="289.5" x2="220.2" y2="289.5" stroke="#d9507a" stroke-width="1.3"/>
<line x1="216.6" y1="325.3" x2="220.2" y2="325.3" stroke="#d9507a" stroke-width="1.3"/>
<rect x="215.3" y="294.7" width="6.2" height="18.6" fill="#da9283" stroke="#c96f66" stroke-width="0.5"/>
<line x1="215.3" y1="310" x2="221.5" y2="310" stroke="#c81e3c" stroke-width="1.5"/>
<circle cx="218.4" cy="289.5" r="0.9" fill="#111"/>
<circle cx="218.4" cy="325.3" r="0.9" fill="#111"/>
<circle cx="217.2" cy="295.3" r="0.9" fill="#111"/>
<circle cx="219.6" cy="312.7" r="0.9" fill="#111"/>
<circle cx="217.4" cy="310" r="0.9" fill="#111"/>
<circle cx="219.4" cy="302.35" r="0.9" fill="#111"/>
<circle cx="218" cy="311.65" r="0.9" fill="#111"/>
<circle cx="219.5" cy="310.3" r="0.9" fill="#111"/>
<line x1="230.5" y1="277.5" x2="230.5" y2="325.3" stroke="#62b544" stroke-width="1.1"/>
<line x1="228.7" y1="277.5" x2="232.3" y2="277.5" stroke="#62b544" stroke-width="1.3"/>
<line x1="228.7" y1="325.3" x2="232.3" y2="325.3" stroke="#62b544" stroke-width="1.3"/>
<rect x="227.4" y="285" width="6.2" height="16.9" fill="#b4d99f" stroke="#8fc46f" stroke-width="0.5"/>
<line x1="227.4" y1="293.7" x2="233.6" y2="293.7" stroke="#4e9e33" stroke-width="1.5"/>
<circle cx="230.5" cy="277.5" r="0.9" fill="#111"/>
<circle cx="230.5" cy="325.3" r="0.9" fill="#111"/>
<circle cx="229.3" cy="285.6" r="0.9" fill="#111"/>
<circle cx="231.7" cy="301.3" r="0.9" fill="#111"/>
<circle cx="229.5" cy="293.7" r="0.9" fill="#111"/>
<circle cx="231.5" cy="289.35" r="0.9" fill="#111"/>
<circle cx="230.1" cy="297.8" r="0.9" fill="#111"/>
<circle cx="231.6" cy="294" r="0.9" fill="#111"/>
<line x1="241.9" y1="285.6" x2="241.9" y2="323" stroke="#f2a332" stroke-width="1.1"/>
<line x1="240.1" y1="285.6" x2="243.7" y2="285.6" stroke="#f2a332" stroke-width="1.3"/>
<line x1="240.1" y1="323" x2="243.7" y2="323" stroke="#f2a332" stroke-width="1.3"/>
<rect x="238.8" y="288.9" width="6.2" height="27.6" fill="#f7cb8f" stroke="#efb261" stroke-width="0.5"/>
<line x1="238.8" y1="309.4" x2="245" y2="309.4" stroke="#ef8f14" stroke-width="1.5"/>
<circle cx="241.9" cy="285.6" r="0.9" fill="#111"/>
<circle cx="241.9" cy="323" r="0.9" fill="#111"/>
<circle cx="240.7" cy="289.5" r="0.9" fill="#111"/>
<circle cx="243.1" cy="315.9" r="0.9" fill="#111"/>
<circle cx="240.9" cy="309.4" r="0.9" fill="#111"/>
<circle cx="242.9" cy="299.15" r="0.9" fill="#111"/>
<circle cx="241.5" cy="312.95" r="0.9" fill="#111"/>
<circle cx="243" cy="309.7" r="0.9" fill="#111"/>
<line x1="254.3" y1="271.6" x2="254.3" y2="321.4" stroke="#4565ad" stroke-width="1.1"/>
<line x1="252.5" y1="271.6" x2="256.1" y2="271.6" stroke="#4565ad" stroke-width="1.3"/>
<line x1="252.5" y1="321.4" x2="256.1" y2="321.4" stroke="#4565ad" stroke-width="1.3"/>
<rect x="251.2" y="274.2" width="6.2" height="25.4" fill="#98a2d0" stroke="#7a88c4" stroke-width="0.5"/>
<line x1="251.2" y1="298.6" x2="257.4" y2="298.6" stroke="#2a4a9a" stroke-width="1.5"/>
<circle cx="254.3" cy="271.6" r="0.9" fill="#111"/>
<circle cx="254.3" cy="321.4" r="0.9" fill="#111"/>
<circle cx="253.1" cy="274.8" r="0.9" fill="#111"/>
<circle cx="255.5" cy="299" r="0.9" fill="#111"/>
<circle cx="253.3" cy="298.6" r="0.9" fill="#111"/>
<circle cx="255.3" cy="286.4" r="0.9" fill="#111"/>
<circle cx="253.9" cy="299.1" r="0.9" fill="#111"/>
<circle cx="255.4" cy="298.9" r="0.9" fill="#111"/>
<text x="218.4" y="339.8" font-size="6.4" text-anchor="middle" fill="#2b2b2b" font-weight="normal" textLength="9.4" lengthAdjust="spacingAndGlyphs">-/lo</text>
<text x="218.4" y="350.1" font-size="6.4" text-anchor="middle" fill="#2b2b2b" font-weight="normal">-</text>
<text x="230.5" y="339.8" font-size="6.4" text-anchor="middle" fill="#2b2b2b" font-weight="normal" textLength="9.4" lengthAdjust="spacingAndGlyphs">-/lo</text>
<text x="230.5" y="350.1" font-size="6.4" text-anchor="middle" fill="#2b2b2b" font-weight="normal">+</text>
<text x="241.9" y="339.8" font-size="6.4" text-anchor="middle" fill="#2b2b2b" font-weight="normal">+</text>
<text x="241.9" y="350.1" font-size="6.4" text-anchor="middle" fill="#2b2b2b" font-weight="normal">-</text>
<text x="254.3" y="339.8" font-size="6.4" text-anchor="middle" fill="#2b2b2b" font-weight="normal">+</text>
<text x="254.3" y="350.1" font-size="6.4" text-anchor="middle" fill="#2b2b2b" font-weight="normal">+</text>
<line x1="217.3" y1="260.5" x2="254.6" y2="260.5" stroke="#2a2a2a" stroke-width="1.15" stroke-linecap="round"/>
<circle cx="217.3" cy="260.5" r="0.85" fill="#111"/><circle cx="254.6" cy="260.5" r="0.85" fill="#111"/>
<path d="M234.17,256.55 L234.17,258.65 M233.27,257.08 L235.08,258.12 M233.27,258.12 L235.08,257.08 " stroke="#111" stroke-width="0.85" stroke-linecap="round"/>
<circle cx="234.17" cy="257.6" r="0.55" fill="#111"/>
<path d="M237.72,256.55 L237.72,258.65 M236.82,257.08 L238.63,258.12 M236.82,258.12 L238.63,257.08 " stroke="#111" stroke-width="0.85" stroke-linecap="round"/>
<circle cx="237.72" cy="257.6" r="0.55" fill="#111"/>
<line x1="240.4" y1="254.5" x2="254.6" y2="254.5" stroke="#2a2a2a" stroke-width="1.15" stroke-linecap="round"/>
<circle cx="240.4" cy="254.5" r="0.85" fill="#111"/><circle cx="254.6" cy="254.5" r="0.85" fill="#111"/>
<path d="M247.5,250.55 L247.5,252.65 M246.59,251.07 L248.41,252.12 M246.59,252.12 L248.41,251.07 " stroke="#111" stroke-width="0.85" stroke-linecap="round"/>
<circle cx="247.5" cy="251.6" r="0.55" fill="#111"/>
<text transform="translate(185.6,79.9) rotate(-90)" font-size="8.3" fill="#2b2b2b" textLength="42.6" lengthAdjust="spacingAndGlyphs">IFN&#947;:IL-4 ratio</text>
<text transform="translate(292.7,190.5) rotate(-90)" font-size="7.8" fill="#2b2b2b" textLength="41" lengthAdjust="spacingAndGlyphs">Frequency (%)</text>
<text transform="translate(17.9,334.3) rotate(-90)" font-size="7.9" fill="#2b2b2b" textLength="84.5" lengthAdjust="spacingAndGlyphs">Mean fluorescence intensity</text>
</svg>
</body></html>
